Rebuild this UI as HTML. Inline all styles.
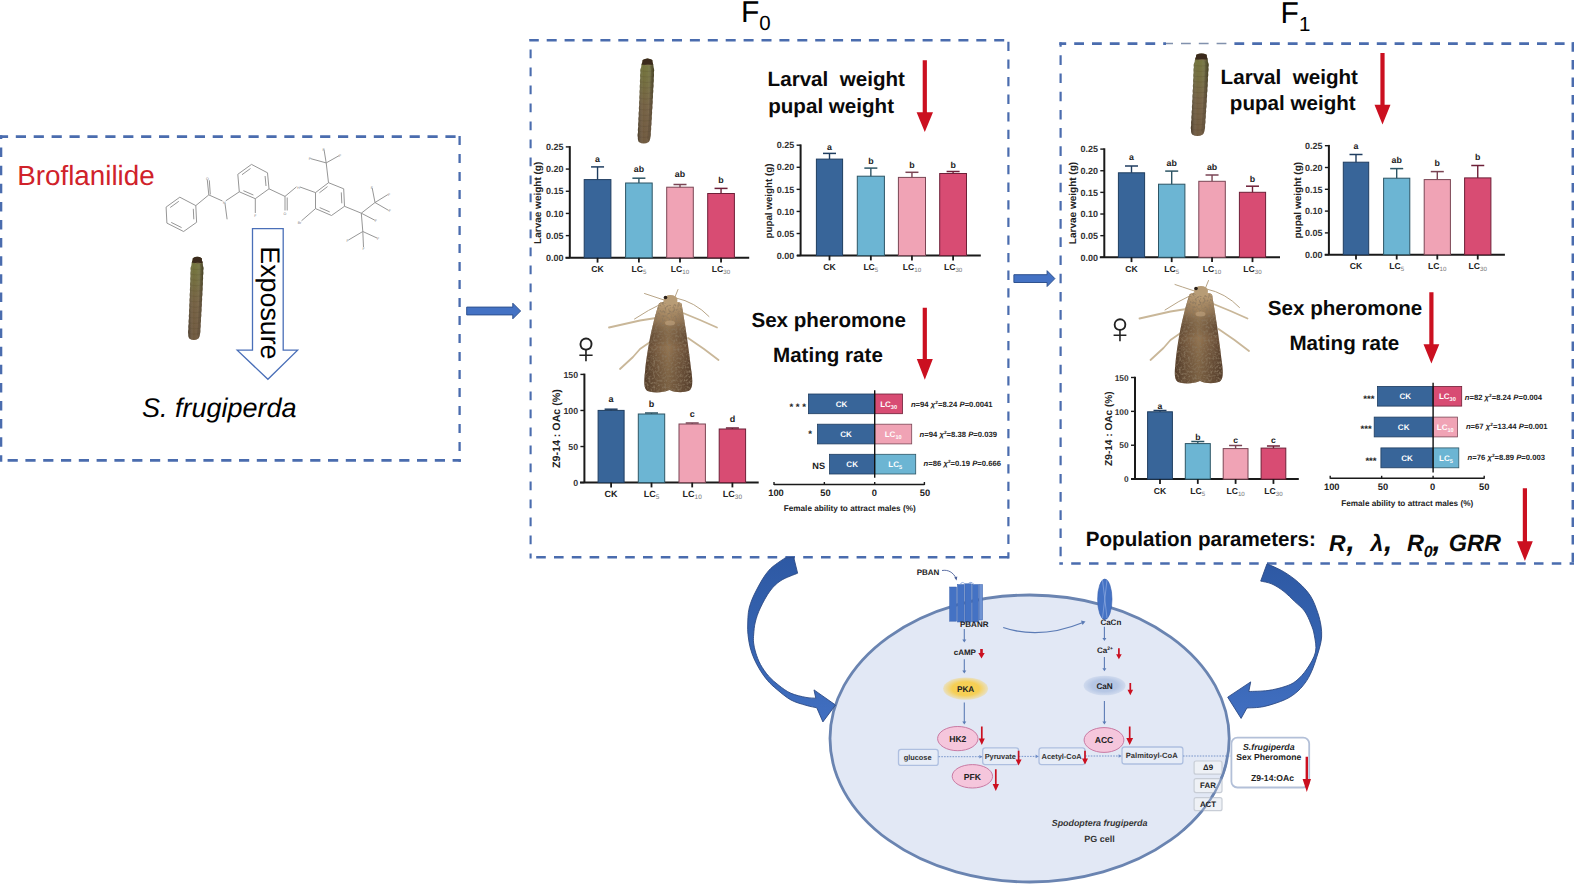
<!DOCTYPE html>
<html><head><meta charset="utf-8"><title>Broflanilide graphical abstract</title>
<style>html,body{margin:0;padding:0;background:#fff;overflow:hidden}svg{display:block;text-rendering:geometricPrecision}</style></head>
<body><svg width="1574" height="886" viewBox="0 0 1574 886">
<defs>
<linearGradient id="catG" x1="0" y1="0" x2="0" y2="1">
 <stop offset="0" stop-color="#5f5a2a"/><stop offset="0.1" stop-color="#6c6c33"/><stop offset="0.3" stop-color="#6c6535"/>
 <stop offset="0.55" stop-color="#6e5a3a"/><stop offset="1" stop-color="#685136"/></linearGradient>
<linearGradient id="catS" x1="0" y1="0" x2="1" y2="0">
 <stop offset="0" stop-color="#000" stop-opacity="0.35"/><stop offset="0.35" stop-color="#fff" stop-opacity="0.05"/>
 <stop offset="0.6" stop-color="#fff" stop-opacity="0.08"/><stop offset="1" stop-color="#000" stop-opacity="0.4"/></linearGradient>
<linearGradient id="mothG" x1="0" y1="0" x2="1" y2="0">
 <stop offset="0" stop-color="#5e4530"/><stop offset="0.25" stop-color="#7b5e42"/>
 <stop offset="0.5" stop-color="#957652"/><stop offset="0.75" stop-color="#7a5d42"/><stop offset="1" stop-color="#604632"/></linearGradient>
<linearGradient id="mothV" x1="0" y1="0" x2="0" y2="1">
 <stop offset="0" stop-color="#c8ab82" stop-opacity="0.9"/><stop offset="0.22" stop-color="#ad9069" stop-opacity="0.45"/>
 <stop offset="0.5" stop-color="#000" stop-opacity="0"/><stop offset="1" stop-color="#3d2d1e" stop-opacity="0.3"/></linearGradient>
<linearGradient id="arrG" x1="0" y1="0" x2="0" y2="1">
 <stop offset="0" stop-color="#2e59a4"/><stop offset="0.5" stop-color="#3563b0"/><stop offset="1" stop-color="#416fc1"/></linearGradient>
<radialGradient id="pkaG"><stop offset="0.6" stop-color="#f6cf55"/><stop offset="1" stop-color="#f6cf55" stop-opacity="0.3"/></radialGradient>
<radialGradient id="canG"><stop offset="0.6" stop-color="#b5c6e4"/><stop offset="1" stop-color="#b5c6e4" stop-opacity="0.4"/></radialGradient>
<clipPath id="catHeadClip"><path d="M-2,-3 H20 V6.0 Q9,8.2 -2,6.0 Z"/></clipPath>
<filter id="blurC" x="-20%" y="-5%" width="140%" height="110%"><feGaussianBlur stdDeviation="0.45"/></filter>
<filter id="mottle" x="0" y="0" width="100%" height="100%"><feTurbulence type="fractalNoise" baseFrequency="0.45" numOctaves="2" seed="7" result="n"/><feColorMatrix in="n" type="matrix" values="0 0 0 0 0.25  0 0 0 0 0.18  0 0 0 0 0.11  0 0 0 -2.2 1.25" result="m"/><feComposite in="m" in2="SourceGraphic" operator="in"/></filter>
<filter id="blur1"><feGaussianBlur stdDeviation="0.6"/></filter>
<filter id="blur2"><feGaussianBlur stdDeviation="1.2"/></filter>
</defs>
<rect x="0" y="0" width="1574" height="886" fill="#ffffff"/>
<line x1="0.00" y1="136.60" x2="460.90" y2="136.60" stroke="#4a6cae" stroke-width="2.6" stroke-dasharray="10.2 7.70" stroke-dashoffset="2.10"/>
<line x1="1.10" y1="135.30" x2="1.10" y2="461.70" stroke="#4a6cae" stroke-width="2.4" stroke-dasharray="9.5 8.60" stroke-dashoffset="5.80"/>
<line x1="0.00" y1="460.40" x2="460.90" y2="460.40" stroke="#4a6cae" stroke-width="2.6" stroke-dasharray="10.2 7.60" stroke-dashoffset="10.20"/>
<line x1="459.60" y1="135.30" x2="459.60" y2="461.70" stroke="#4a6cae" stroke-width="2.3" stroke-dasharray="9.1 8.90" stroke-dashoffset="17.30"/>
<line x1="529.30" y1="40.20" x2="1009.60" y2="40.20" stroke="#4a6cae" stroke-width="2.6" stroke-dasharray="10.0 7.90" stroke-dashoffset="0.50"/>
<line x1="530.60" y1="38.90" x2="530.60" y2="558.50" stroke="#4a6cae" stroke-width="2.1" stroke-dasharray="8.6 9.40" stroke-dashoffset="7.30"/>
<line x1="529.30" y1="557.20" x2="1009.60" y2="557.20" stroke="#4a6cae" stroke-width="2.6" stroke-dasharray="9.6 8.20" stroke-dashoffset="10.90"/>
<line x1="1008.40" y1="38.90" x2="1008.40" y2="558.50" stroke="#4a6cae" stroke-width="2.2" stroke-dasharray="9.3 8.30" stroke-dashoffset="14.70"/>
<line x1="1059.30" y1="43.60" x2="1574.00" y2="43.60" stroke="#4a6cae" stroke-width="2.6" stroke-dasharray="9.8 8.00" stroke-dashoffset="2.90"/>
<line x1="1060.60" y1="42.30" x2="1060.60" y2="564.80" stroke="#4a6cae" stroke-width="2.2" stroke-dasharray="9.6 8.60" stroke-dashoffset="5.20"/>
<line x1="1059.30" y1="563.50" x2="1574.00" y2="563.50" stroke="#4a6cae" stroke-width="2.6" stroke-dasharray="9.5 8.30" stroke-dashoffset="5.90"/>
<line x1="1572.80" y1="42.30" x2="1572.80" y2="564.80" stroke="#4a6cae" stroke-width="2.5" stroke-dasharray="9.5 8.10" stroke-dashoffset="0.00"/>
<rect x="1166" y="41.8" width="62" height="3.8" fill="#fff"/>
<line x1="1166.00" y1="43.60" x2="1228.00" y2="43.60" stroke="#8191ad" stroke-width="1.5" stroke-dasharray="9.8 8.00" stroke-dashoffset="2.80"/>
<path d="M466.7,307.1 L512.8,307.1 L512.8,303.2 L520.6,311.0 L512.8,318.8 L512.8,314.9 L466.7,314.9 Z" fill="#4472c4" stroke="#2f528f" stroke-width="1"/>
<path d="M1013.9,274.70000000000005 L1047.1,274.70000000000005 L1047.1,270.70000000000005 L1054.9,278.6 L1047.1,286.5 L1047.1,282.5 L1013.9,282.5 Z" fill="#4472c4" stroke="#2f528f" stroke-width="1"/>
<text x="17.20" y="185.00" font-size="27.8" font-weight="normal" font-style="normal" text-anchor="start" fill="#d0222a" font-family="'Liberation Sans', Arial, sans-serif" >Broflanilide</text>
<text x="142.00" y="417.20" font-size="27.0" font-weight="normal" font-style="italic" text-anchor="start" fill="#000" font-family="'Liberation Sans', Arial, sans-serif" >S. frugiperda</text>
<path d="M252.5,228.6 L283.2,228.6 L283.2,350.1 L297.6,350.1 L267.9,379.3 L237.2,350.1 L252.5,350.1 Z" fill="#fff" stroke="#4a6fb8" stroke-width="1.3"/>
<text transform="translate(261.0,246.3) rotate(90)" x="0" y="0" font-size="26.8" font-family="'Liberation Sans', Arial, sans-serif" fill="#000">Exposure</text>
<g transform="translate(189.3,256.2) scale(0.93,0.98)"><g>
 <g filter="url(#blurC)">
 <path d="M3.76,2.00 Q8.60,-1.0 13.38,2.00 L13.45,3.17 L13.58,4.34 L14.00,5.51 L14.30,6.69 L14.45,7.86 L14.47,9.03 L14.76,10.20 L15.14,11.37 L15.25,12.54 L15.08,13.71 L14.84,14.89 L15.01,16.06 L15.08,17.23 L14.98,18.40 L14.76,19.57 L14.69,20.74 L14.82,21.91 L14.83,23.09 L14.67,24.26 L14.41,25.43 L14.51,26.60 L14.60,27.77 L14.54,28.94 L14.33,30.11 L14.16,31.29 L14.30,32.46 L14.33,33.63 L14.21,34.80 L13.95,35.97 L13.95,37.14 L14.06,38.31 L14.03,39.49 L13.84,40.66 L13.57,41.83 L13.73,43.00 L13.79,44.17 L13.69,45.34 L13.46,46.51 L13.35,47.69 L13.48,48.86 L13.48,50.03 L13.32,51.20 L13.05,52.37 L13.12,53.54 L13.20,54.71 L13.14,55.89 L12.92,57.06 L12.72,58.23 L12.86,59.40 L12.89,60.57 L12.76,61.74 L12.50,62.91 L12.47,64.09 L12.58,65.26 L12.54,66.43 L12.35,67.60 L12.06,68.77 L12.20,69.94 L12.26,71.11 L12.16,72.29 L11.92,73.46 L11.79,74.63 L11.92,75.80 L11.91,76.97 L11.75,78.14 L11.41,79.31 L11.27,80.49 L11.06,81.66 L10.60,82.83 L9.88,84.00 Q4.80,87.2 -0.05,84.00 L-0.64,82.83 L-0.97,81.66 L-1.04,80.49 L-1.05,79.31 L-1.26,78.14 L-1.29,76.97 L-1.16,75.80 L-0.91,74.63 L-0.92,73.46 L-1.03,72.29 L-1.00,71.11 L-0.81,69.94 L-0.55,68.77 L-0.71,67.60 L-0.77,66.43 L-0.68,65.26 L-0.46,64.09 L-0.36,62.91 L-0.50,61.74 L-0.51,60.57 L-0.36,59.40 L-0.10,58.23 L-0.18,57.06 L-0.27,55.89 L-0.22,54.71 L-0.02,53.54 L0.16,52.37 L0.01,51.20 L-0.04,50.03 L0.07,48.86 L0.31,47.69 L0.33,46.51 L0.20,45.34 L0.22,44.17 L0.38,43.00 L0.65,41.83 L0.49,40.66 L0.41,39.49 L0.48,38.31 L0.69,37.14 L0.80,35.97 L0.65,34.80 L0.62,33.63 L0.76,32.46 L1.00,31.29 L0.93,30.11 L0.82,28.94 L0.85,27.77 L1.04,26.60 L1.23,25.43 L1.06,24.26 L1.00,23.09 L1.09,21.91 L1.31,20.74 L1.33,19.57 L1.19,18.40 L1.18,17.23 L1.33,16.06 L1.58,14.89 L1.42,13.71 L1.32,12.54 L1.51,11.37 L1.96,10.20 L2.33,9.03 L2.41,7.86 L2.62,6.69 L2.98,5.51 L3.46,4.34 L3.65,3.17 L3.76,2.00 Z" fill="url(#catG)"/>
 <path d="M3.76,2.00 Q8.60,-1.0 13.38,2.00 L13.45,3.17 L13.58,4.34 L14.00,5.51 L14.30,6.69 L14.45,7.86 L14.47,9.03 L14.76,10.20 L15.14,11.37 L15.25,12.54 L15.08,13.71 L14.84,14.89 L15.01,16.06 L15.08,17.23 L14.98,18.40 L14.76,19.57 L14.69,20.74 L14.82,21.91 L14.83,23.09 L14.67,24.26 L14.41,25.43 L14.51,26.60 L14.60,27.77 L14.54,28.94 L14.33,30.11 L14.16,31.29 L14.30,32.46 L14.33,33.63 L14.21,34.80 L13.95,35.97 L13.95,37.14 L14.06,38.31 L14.03,39.49 L13.84,40.66 L13.57,41.83 L13.73,43.00 L13.79,44.17 L13.69,45.34 L13.46,46.51 L13.35,47.69 L13.48,48.86 L13.48,50.03 L13.32,51.20 L13.05,52.37 L13.12,53.54 L13.20,54.71 L13.14,55.89 L12.92,57.06 L12.72,58.23 L12.86,59.40 L12.89,60.57 L12.76,61.74 L12.50,62.91 L12.47,64.09 L12.58,65.26 L12.54,66.43 L12.35,67.60 L12.06,68.77 L12.20,69.94 L12.26,71.11 L12.16,72.29 L11.92,73.46 L11.79,74.63 L11.92,75.80 L11.91,76.97 L11.75,78.14 L11.41,79.31 L11.27,80.49 L11.06,81.66 L10.60,82.83 L9.88,84.00 Q4.80,87.2 -0.05,84.00 L-0.64,82.83 L-0.97,81.66 L-1.04,80.49 L-1.05,79.31 L-1.26,78.14 L-1.29,76.97 L-1.16,75.80 L-0.91,74.63 L-0.92,73.46 L-1.03,72.29 L-1.00,71.11 L-0.81,69.94 L-0.55,68.77 L-0.71,67.60 L-0.77,66.43 L-0.68,65.26 L-0.46,64.09 L-0.36,62.91 L-0.50,61.74 L-0.51,60.57 L-0.36,59.40 L-0.10,58.23 L-0.18,57.06 L-0.27,55.89 L-0.22,54.71 L-0.02,53.54 L0.16,52.37 L0.01,51.20 L-0.04,50.03 L0.07,48.86 L0.31,47.69 L0.33,46.51 L0.20,45.34 L0.22,44.17 L0.38,43.00 L0.65,41.83 L0.49,40.66 L0.41,39.49 L0.48,38.31 L0.69,37.14 L0.80,35.97 L0.65,34.80 L0.62,33.63 L0.76,32.46 L1.00,31.29 L0.93,30.11 L0.82,28.94 L0.85,27.77 L1.04,26.60 L1.23,25.43 L1.06,24.26 L1.00,23.09 L1.09,21.91 L1.31,20.74 L1.33,19.57 L1.19,18.40 L1.18,17.23 L1.33,16.06 L1.58,14.89 L1.42,13.71 L1.32,12.54 L1.51,11.37 L1.96,10.20 L2.33,9.03 L2.41,7.86 L2.62,6.69 L2.98,5.51 L3.46,4.34 L3.65,3.17 L3.76,2.00 Z" fill="url(#catS)"/>
 <path d="M10.83,6 L11.40,8.00 L12.14,12.00 L11.98,16.00 L11.81,20.00 L11.64,24.00 L11.45,28.00 L11.26,32.00 L11.07,36.00 L10.86,40.00 L10.65,44.00 L10.44,48.00 L10.22,52.00 L10.00,56.00 L9.77,60.00 L9.54,64.00 L9.30,68.00 L9.07,72.00 L8.82,76.00 L8.42,80.00 L9.99,84.00 L11.52,80.00 L11.92,76.00 L12.17,72.00 L12.40,68.00 L12.64,64.00 L12.87,60.00 L13.10,56.00 L13.32,52.00 L13.54,48.00 L13.75,44.00 L13.96,40.00 L14.17,36.00 L14.36,32.00 L14.55,28.00 L14.74,24.00 L14.91,20.00 L15.08,16.00 L15.24,12.00 L14.50,8.00 Z" fill="#3e2f1c" fill-opacity="0.25"/>
 <path d="M2.15,13.00 Q8.27,14.20 14.40,13.00 M1.99,18.50 Q8.08,19.70 14.18,18.50 M1.82,24.00 Q7.88,25.20 13.94,24.00 M1.63,29.50 Q7.65,30.70 13.68,29.50 M1.42,35.00 Q7.42,36.20 13.42,35.00 M1.21,40.50 Q7.17,41.70 13.14,40.50 M0.98,46.00 Q6.92,47.20 12.85,46.00 M0.75,51.50 Q6.65,52.70 12.55,51.50 M0.51,57.00 Q6.37,58.20 12.24,57.00 M0.25,62.50 Q6.09,63.70 11.93,62.50 M-0.00,68.00 Q5.80,69.20 11.60,68.00 M-0.27,73.50 Q5.50,74.70 11.27,73.50 M-0.50,79.00 Q5.20,80.20 10.90,79.00" stroke="#3d2f1c" stroke-opacity="0.18" stroke-width="0.7" fill="none"/>
 <path d="M3.76,2.00 Q8.60,-1.0 13.38,2.00 L13.45,3.17 L13.58,4.34 L14.00,5.51 L14.30,6.69 L14.45,7.86 L14.47,9.03 L14.76,10.20 L15.14,11.37 L15.25,12.54 L15.08,13.71 L14.84,14.89 L15.01,16.06 L15.08,17.23 L14.98,18.40 L14.76,19.57 L14.69,20.74 L14.82,21.91 L14.83,23.09 L14.67,24.26 L14.41,25.43 L14.51,26.60 L14.60,27.77 L14.54,28.94 L14.33,30.11 L14.16,31.29 L14.30,32.46 L14.33,33.63 L14.21,34.80 L13.95,35.97 L13.95,37.14 L14.06,38.31 L14.03,39.49 L13.84,40.66 L13.57,41.83 L13.73,43.00 L13.79,44.17 L13.69,45.34 L13.46,46.51 L13.35,47.69 L13.48,48.86 L13.48,50.03 L13.32,51.20 L13.05,52.37 L13.12,53.54 L13.20,54.71 L13.14,55.89 L12.92,57.06 L12.72,58.23 L12.86,59.40 L12.89,60.57 L12.76,61.74 L12.50,62.91 L12.47,64.09 L12.58,65.26 L12.54,66.43 L12.35,67.60 L12.06,68.77 L12.20,69.94 L12.26,71.11 L12.16,72.29 L11.92,73.46 L11.79,74.63 L11.92,75.80 L11.91,76.97 L11.75,78.14 L11.41,79.31 L11.27,80.49 L11.06,81.66 L10.60,82.83 L9.88,84.00 Q4.80,87.2 -0.05,84.00 L-0.64,82.83 L-0.97,81.66 L-1.04,80.49 L-1.05,79.31 L-1.26,78.14 L-1.29,76.97 L-1.16,75.80 L-0.91,74.63 L-0.92,73.46 L-1.03,72.29 L-1.00,71.11 L-0.81,69.94 L-0.55,68.77 L-0.71,67.60 L-0.77,66.43 L-0.68,65.26 L-0.46,64.09 L-0.36,62.91 L-0.50,61.74 L-0.51,60.57 L-0.36,59.40 L-0.10,58.23 L-0.18,57.06 L-0.27,55.89 L-0.22,54.71 L-0.02,53.54 L0.16,52.37 L0.01,51.20 L-0.04,50.03 L0.07,48.86 L0.31,47.69 L0.33,46.51 L0.20,45.34 L0.22,44.17 L0.38,43.00 L0.65,41.83 L0.49,40.66 L0.41,39.49 L0.48,38.31 L0.69,37.14 L0.80,35.97 L0.65,34.80 L0.62,33.63 L0.76,32.46 L1.00,31.29 L0.93,30.11 L0.82,28.94 L0.85,27.77 L1.04,26.60 L1.23,25.43 L1.06,24.26 L1.00,23.09 L1.09,21.91 L1.31,20.74 L1.33,19.57 L1.19,18.40 L1.18,17.23 L1.33,16.06 L1.58,14.89 L1.42,13.71 L1.32,12.54 L1.51,11.37 L1.96,10.20 L2.33,9.03 L2.41,7.86 L2.62,6.69 L2.98,5.51 L3.46,4.34 L3.65,3.17 L3.76,2.00 Z" fill="#3b2b1c" clip-path="url(#catHeadClip)"/>
 <path d="M6,7.6 Q9,6.2 12.5,7.6" stroke="#8a7a55" stroke-width="0.8" fill="none" stroke-opacity="0.7"/>
 </g>
</g>
</g>
<path d="M179.8,197.2 L195.8,205.6 M195.8,205.6 L196.6,222.3 M196.6,222.3 L183.6,231.5 M183.6,231.5 L166.9,223.1 M166.9,223.1 L166.1,207.1 M166.1,207.1 L179.8,197.2 M178.8,201.3 L170.2,207.5 M193.3,208.8 L193.8,219.3 M181.6,227.6 L171.2,222.4 M195.8,205.6 L208.8,194.9 M208.8,194.9 L207.3,180.0 M210.3,194.5 L209.3,180.3 M208.8,194.9 L222.5,201.0 M225.0,203.5 L227.1,219.3 M225.8,200.8 L239.3,191.8 M239.3,191.8 L237.8,174.3 M237.8,174.3 L251.5,164.4 M251.5,164.4 L267.5,172.8 M267.5,172.8 L269.0,188.8 M269.0,188.8 L255.3,198.7 M255.3,198.7 L239.3,191.8 M242.0,174.7 L250.5,168.5 M265.1,176.0 L266.0,186.0 M253.4,195.0 L243.4,190.7 M255.3,198.7 L255.3,213.0 M269.0,188.8 L285.0,196.4 M285.0,196.4 L285.0,210.5 M287.2,197.5 L287.2,210.5 M285.0,196.4 L296.5,186.8 M300.0,187.0 L315.5,192.6 M315.5,192.6 L328.5,182.7 M328.5,182.7 L343.7,188.8 M343.7,188.8 L344.5,206.3 M344.5,206.3 L331.5,215.5 M331.5,215.5 L315.5,208.6 M315.5,208.6 L315.5,192.6 M319.4,192.8 L327.5,186.6 M341.3,192.4 L341.8,203.3 M329.7,211.9 L319.7,207.6 M328.5,182.7 L326.2,162.9 M326.2,162.9 L310.5,158.6 M326.2,162.9 L324.0,149.5 M326.2,162.9 L339.0,155.7 M315.5,208.6 L301.5,220.8 M344.5,206.3 L361.3,213.2 M361.3,213.2 L375.0,202.5 M375.0,202.5 L372.2,188.0 M375.0,202.5 L387.8,194.6 M375.0,202.5 L388.6,210.4 M361.3,213.2 L374.8,220.2 M361.3,213.2 L362.8,231.5 M362.8,231.5 L348.5,240.0 M362.8,231.5 L377.0,238.0 M362.8,231.5 L363.5,247.0" stroke="#8a8a8a" stroke-width="0.9" fill="none"/>
<text x="207.30" y="180.20" font-size="3.6" font-weight="normal" font-style="normal" text-anchor="middle" fill="#777" font-family="'Liberation Sans', Arial, sans-serif" >O</text>
<text x="224.20" y="204.00" font-size="3.6" font-weight="normal" font-style="normal" text-anchor="middle" fill="#777" font-family="'Liberation Sans', Arial, sans-serif" >N</text>
<text x="255.30" y="216.50" font-size="3.6" font-weight="normal" font-style="normal" text-anchor="middle" fill="#777" font-family="'Liberation Sans', Arial, sans-serif" >F</text>
<text x="285.00" y="214.50" font-size="3.6" font-weight="normal" font-style="normal" text-anchor="middle" fill="#777" font-family="'Liberation Sans', Arial, sans-serif" >O</text>
<text x="298.50" y="188.50" font-size="3.6" font-weight="normal" font-style="normal" text-anchor="middle" fill="#777" font-family="'Liberation Sans', Arial, sans-serif" >H</text>
<text x="299.50" y="223.50" font-size="3.6" font-weight="normal" font-style="normal" text-anchor="middle" fill="#777" font-family="'Liberation Sans', Arial, sans-serif" >Br</text>
<text x="309.80" y="160.30" font-size="3.6" font-weight="normal" font-style="normal" text-anchor="middle" fill="#777" font-family="'Liberation Sans', Arial, sans-serif" >F</text>
<text x="323.60" y="150.80" font-size="3.6" font-weight="normal" font-style="normal" text-anchor="middle" fill="#777" font-family="'Liberation Sans', Arial, sans-serif" >F</text>
<text x="340.00" y="157.30" font-size="3.6" font-weight="normal" font-style="normal" text-anchor="middle" fill="#777" font-family="'Liberation Sans', Arial, sans-serif" >F</text>
<text x="371.80" y="189.30" font-size="3.6" font-weight="normal" font-style="normal" text-anchor="middle" fill="#777" font-family="'Liberation Sans', Arial, sans-serif" >F</text>
<text x="389.00" y="196.00" font-size="3.6" font-weight="normal" font-style="normal" text-anchor="middle" fill="#777" font-family="'Liberation Sans', Arial, sans-serif" >F</text>
<text x="389.80" y="212.00" font-size="3.6" font-weight="normal" font-style="normal" text-anchor="middle" fill="#777" font-family="'Liberation Sans', Arial, sans-serif" >F</text>
<text x="375.80" y="222.00" font-size="3.6" font-weight="normal" font-style="normal" text-anchor="middle" fill="#777" font-family="'Liberation Sans', Arial, sans-serif" >F</text>
<text x="347.50" y="242.00" font-size="3.6" font-weight="normal" font-style="normal" text-anchor="middle" fill="#777" font-family="'Liberation Sans', Arial, sans-serif" >F</text>
<text x="378.00" y="240.00" font-size="3.6" font-weight="normal" font-style="normal" text-anchor="middle" fill="#777" font-family="'Liberation Sans', Arial, sans-serif" >F</text>
<text x="363.60" y="249.50" font-size="3.6" font-weight="normal" font-style="normal" text-anchor="middle" fill="#777" font-family="'Liberation Sans', Arial, sans-serif" >F</text>
<text x="741.0" y="21.5" font-size="30" font-family="'Liberation Sans', Arial, sans-serif" fill="#000">F<tspan font-size="20.5" dy="8.2">0</tspan></text>
<text x="1280.6" y="22.8" font-size="30" font-family="'Liberation Sans', Arial, sans-serif" fill="#000">F<tspan font-size="20.5" dy="7.9">1</tspan></text>
<g transform="translate(638.9,57.9) scale(1.0,1.0)"><g>
 <g filter="url(#blurC)">
 <path d="M3.76,2.00 Q8.60,-1.0 13.38,2.00 L13.45,3.17 L13.58,4.34 L14.00,5.51 L14.30,6.69 L14.45,7.86 L14.47,9.03 L14.76,10.20 L15.14,11.37 L15.25,12.54 L15.08,13.71 L14.84,14.89 L15.01,16.06 L15.08,17.23 L14.98,18.40 L14.76,19.57 L14.69,20.74 L14.82,21.91 L14.83,23.09 L14.67,24.26 L14.41,25.43 L14.51,26.60 L14.60,27.77 L14.54,28.94 L14.33,30.11 L14.16,31.29 L14.30,32.46 L14.33,33.63 L14.21,34.80 L13.95,35.97 L13.95,37.14 L14.06,38.31 L14.03,39.49 L13.84,40.66 L13.57,41.83 L13.73,43.00 L13.79,44.17 L13.69,45.34 L13.46,46.51 L13.35,47.69 L13.48,48.86 L13.48,50.03 L13.32,51.20 L13.05,52.37 L13.12,53.54 L13.20,54.71 L13.14,55.89 L12.92,57.06 L12.72,58.23 L12.86,59.40 L12.89,60.57 L12.76,61.74 L12.50,62.91 L12.47,64.09 L12.58,65.26 L12.54,66.43 L12.35,67.60 L12.06,68.77 L12.20,69.94 L12.26,71.11 L12.16,72.29 L11.92,73.46 L11.79,74.63 L11.92,75.80 L11.91,76.97 L11.75,78.14 L11.41,79.31 L11.27,80.49 L11.06,81.66 L10.60,82.83 L9.88,84.00 Q4.80,87.2 -0.05,84.00 L-0.64,82.83 L-0.97,81.66 L-1.04,80.49 L-1.05,79.31 L-1.26,78.14 L-1.29,76.97 L-1.16,75.80 L-0.91,74.63 L-0.92,73.46 L-1.03,72.29 L-1.00,71.11 L-0.81,69.94 L-0.55,68.77 L-0.71,67.60 L-0.77,66.43 L-0.68,65.26 L-0.46,64.09 L-0.36,62.91 L-0.50,61.74 L-0.51,60.57 L-0.36,59.40 L-0.10,58.23 L-0.18,57.06 L-0.27,55.89 L-0.22,54.71 L-0.02,53.54 L0.16,52.37 L0.01,51.20 L-0.04,50.03 L0.07,48.86 L0.31,47.69 L0.33,46.51 L0.20,45.34 L0.22,44.17 L0.38,43.00 L0.65,41.83 L0.49,40.66 L0.41,39.49 L0.48,38.31 L0.69,37.14 L0.80,35.97 L0.65,34.80 L0.62,33.63 L0.76,32.46 L1.00,31.29 L0.93,30.11 L0.82,28.94 L0.85,27.77 L1.04,26.60 L1.23,25.43 L1.06,24.26 L1.00,23.09 L1.09,21.91 L1.31,20.74 L1.33,19.57 L1.19,18.40 L1.18,17.23 L1.33,16.06 L1.58,14.89 L1.42,13.71 L1.32,12.54 L1.51,11.37 L1.96,10.20 L2.33,9.03 L2.41,7.86 L2.62,6.69 L2.98,5.51 L3.46,4.34 L3.65,3.17 L3.76,2.00 Z" fill="url(#catG)"/>
 <path d="M3.76,2.00 Q8.60,-1.0 13.38,2.00 L13.45,3.17 L13.58,4.34 L14.00,5.51 L14.30,6.69 L14.45,7.86 L14.47,9.03 L14.76,10.20 L15.14,11.37 L15.25,12.54 L15.08,13.71 L14.84,14.89 L15.01,16.06 L15.08,17.23 L14.98,18.40 L14.76,19.57 L14.69,20.74 L14.82,21.91 L14.83,23.09 L14.67,24.26 L14.41,25.43 L14.51,26.60 L14.60,27.77 L14.54,28.94 L14.33,30.11 L14.16,31.29 L14.30,32.46 L14.33,33.63 L14.21,34.80 L13.95,35.97 L13.95,37.14 L14.06,38.31 L14.03,39.49 L13.84,40.66 L13.57,41.83 L13.73,43.00 L13.79,44.17 L13.69,45.34 L13.46,46.51 L13.35,47.69 L13.48,48.86 L13.48,50.03 L13.32,51.20 L13.05,52.37 L13.12,53.54 L13.20,54.71 L13.14,55.89 L12.92,57.06 L12.72,58.23 L12.86,59.40 L12.89,60.57 L12.76,61.74 L12.50,62.91 L12.47,64.09 L12.58,65.26 L12.54,66.43 L12.35,67.60 L12.06,68.77 L12.20,69.94 L12.26,71.11 L12.16,72.29 L11.92,73.46 L11.79,74.63 L11.92,75.80 L11.91,76.97 L11.75,78.14 L11.41,79.31 L11.27,80.49 L11.06,81.66 L10.60,82.83 L9.88,84.00 Q4.80,87.2 -0.05,84.00 L-0.64,82.83 L-0.97,81.66 L-1.04,80.49 L-1.05,79.31 L-1.26,78.14 L-1.29,76.97 L-1.16,75.80 L-0.91,74.63 L-0.92,73.46 L-1.03,72.29 L-1.00,71.11 L-0.81,69.94 L-0.55,68.77 L-0.71,67.60 L-0.77,66.43 L-0.68,65.26 L-0.46,64.09 L-0.36,62.91 L-0.50,61.74 L-0.51,60.57 L-0.36,59.40 L-0.10,58.23 L-0.18,57.06 L-0.27,55.89 L-0.22,54.71 L-0.02,53.54 L0.16,52.37 L0.01,51.20 L-0.04,50.03 L0.07,48.86 L0.31,47.69 L0.33,46.51 L0.20,45.34 L0.22,44.17 L0.38,43.00 L0.65,41.83 L0.49,40.66 L0.41,39.49 L0.48,38.31 L0.69,37.14 L0.80,35.97 L0.65,34.80 L0.62,33.63 L0.76,32.46 L1.00,31.29 L0.93,30.11 L0.82,28.94 L0.85,27.77 L1.04,26.60 L1.23,25.43 L1.06,24.26 L1.00,23.09 L1.09,21.91 L1.31,20.74 L1.33,19.57 L1.19,18.40 L1.18,17.23 L1.33,16.06 L1.58,14.89 L1.42,13.71 L1.32,12.54 L1.51,11.37 L1.96,10.20 L2.33,9.03 L2.41,7.86 L2.62,6.69 L2.98,5.51 L3.46,4.34 L3.65,3.17 L3.76,2.00 Z" fill="url(#catS)"/>
 <path d="M10.83,6 L11.40,8.00 L12.14,12.00 L11.98,16.00 L11.81,20.00 L11.64,24.00 L11.45,28.00 L11.26,32.00 L11.07,36.00 L10.86,40.00 L10.65,44.00 L10.44,48.00 L10.22,52.00 L10.00,56.00 L9.77,60.00 L9.54,64.00 L9.30,68.00 L9.07,72.00 L8.82,76.00 L8.42,80.00 L9.99,84.00 L11.52,80.00 L11.92,76.00 L12.17,72.00 L12.40,68.00 L12.64,64.00 L12.87,60.00 L13.10,56.00 L13.32,52.00 L13.54,48.00 L13.75,44.00 L13.96,40.00 L14.17,36.00 L14.36,32.00 L14.55,28.00 L14.74,24.00 L14.91,20.00 L15.08,16.00 L15.24,12.00 L14.50,8.00 Z" fill="#3e2f1c" fill-opacity="0.25"/>
 <path d="M2.15,13.00 Q8.27,14.20 14.40,13.00 M1.99,18.50 Q8.08,19.70 14.18,18.50 M1.82,24.00 Q7.88,25.20 13.94,24.00 M1.63,29.50 Q7.65,30.70 13.68,29.50 M1.42,35.00 Q7.42,36.20 13.42,35.00 M1.21,40.50 Q7.17,41.70 13.14,40.50 M0.98,46.00 Q6.92,47.20 12.85,46.00 M0.75,51.50 Q6.65,52.70 12.55,51.50 M0.51,57.00 Q6.37,58.20 12.24,57.00 M0.25,62.50 Q6.09,63.70 11.93,62.50 M-0.00,68.00 Q5.80,69.20 11.60,68.00 M-0.27,73.50 Q5.50,74.70 11.27,73.50 M-0.50,79.00 Q5.20,80.20 10.90,79.00" stroke="#3d2f1c" stroke-opacity="0.18" stroke-width="0.7" fill="none"/>
 <path d="M3.76,2.00 Q8.60,-1.0 13.38,2.00 L13.45,3.17 L13.58,4.34 L14.00,5.51 L14.30,6.69 L14.45,7.86 L14.47,9.03 L14.76,10.20 L15.14,11.37 L15.25,12.54 L15.08,13.71 L14.84,14.89 L15.01,16.06 L15.08,17.23 L14.98,18.40 L14.76,19.57 L14.69,20.74 L14.82,21.91 L14.83,23.09 L14.67,24.26 L14.41,25.43 L14.51,26.60 L14.60,27.77 L14.54,28.94 L14.33,30.11 L14.16,31.29 L14.30,32.46 L14.33,33.63 L14.21,34.80 L13.95,35.97 L13.95,37.14 L14.06,38.31 L14.03,39.49 L13.84,40.66 L13.57,41.83 L13.73,43.00 L13.79,44.17 L13.69,45.34 L13.46,46.51 L13.35,47.69 L13.48,48.86 L13.48,50.03 L13.32,51.20 L13.05,52.37 L13.12,53.54 L13.20,54.71 L13.14,55.89 L12.92,57.06 L12.72,58.23 L12.86,59.40 L12.89,60.57 L12.76,61.74 L12.50,62.91 L12.47,64.09 L12.58,65.26 L12.54,66.43 L12.35,67.60 L12.06,68.77 L12.20,69.94 L12.26,71.11 L12.16,72.29 L11.92,73.46 L11.79,74.63 L11.92,75.80 L11.91,76.97 L11.75,78.14 L11.41,79.31 L11.27,80.49 L11.06,81.66 L10.60,82.83 L9.88,84.00 Q4.80,87.2 -0.05,84.00 L-0.64,82.83 L-0.97,81.66 L-1.04,80.49 L-1.05,79.31 L-1.26,78.14 L-1.29,76.97 L-1.16,75.80 L-0.91,74.63 L-0.92,73.46 L-1.03,72.29 L-1.00,71.11 L-0.81,69.94 L-0.55,68.77 L-0.71,67.60 L-0.77,66.43 L-0.68,65.26 L-0.46,64.09 L-0.36,62.91 L-0.50,61.74 L-0.51,60.57 L-0.36,59.40 L-0.10,58.23 L-0.18,57.06 L-0.27,55.89 L-0.22,54.71 L-0.02,53.54 L0.16,52.37 L0.01,51.20 L-0.04,50.03 L0.07,48.86 L0.31,47.69 L0.33,46.51 L0.20,45.34 L0.22,44.17 L0.38,43.00 L0.65,41.83 L0.49,40.66 L0.41,39.49 L0.48,38.31 L0.69,37.14 L0.80,35.97 L0.65,34.80 L0.62,33.63 L0.76,32.46 L1.00,31.29 L0.93,30.11 L0.82,28.94 L0.85,27.77 L1.04,26.60 L1.23,25.43 L1.06,24.26 L1.00,23.09 L1.09,21.91 L1.31,20.74 L1.33,19.57 L1.19,18.40 L1.18,17.23 L1.33,16.06 L1.58,14.89 L1.42,13.71 L1.32,12.54 L1.51,11.37 L1.96,10.20 L2.33,9.03 L2.41,7.86 L2.62,6.69 L2.98,5.51 L3.46,4.34 L3.65,3.17 L3.76,2.00 Z" fill="#3b2b1c" clip-path="url(#catHeadClip)"/>
 <path d="M6,7.6 Q9,6.2 12.5,7.6" stroke="#8a7a55" stroke-width="0.8" fill="none" stroke-opacity="0.7"/>
 </g>
</g>
</g>
<text x="767.60" y="86.20" font-size="20.6" font-weight="bold" font-style="normal" text-anchor="start" fill="#0a0a0a" font-family="'Liberation Sans', Arial, sans-serif" >Larval&#160;&#160;weight</text>
<text x="768.20" y="112.90" font-size="20.6" font-weight="bold" font-style="normal" text-anchor="start" fill="#0a0a0a" font-family="'Liberation Sans', Arial, sans-serif" >pupal weight</text>
<path d="M922.70,60.20 L926.90,60.20 L926.90,112.30 L933.00,112.30 L924.80,132.00 L916.60,112.30 L922.70,112.30 Z" fill="#cb1020"/>
<line x1="569.80" y1="146.10" x2="569.80" y2="257.80" stroke="#1a1a1a" stroke-width="2"/>
<line x1="565.50" y1="257.80" x2="749.20" y2="257.80" stroke="#1a1a1a" stroke-width="2"/>
<line x1="565.80" y1="257.80" x2="569.80" y2="257.80" stroke="#1a1a1a" stroke-width="1.4"/>
<text x="563.50" y="261.00" font-size="9.0" font-weight="bold" font-style="normal" text-anchor="end" fill="#333" font-family="'Liberation Sans', Arial, sans-serif" >0.00</text>
<line x1="565.80" y1="235.62" x2="569.80" y2="235.62" stroke="#1a1a1a" stroke-width="1.4"/>
<text x="563.50" y="238.82" font-size="9.0" font-weight="bold" font-style="normal" text-anchor="end" fill="#333" font-family="'Liberation Sans', Arial, sans-serif" >0.05</text>
<line x1="565.80" y1="213.44" x2="569.80" y2="213.44" stroke="#1a1a1a" stroke-width="1.4"/>
<text x="563.50" y="216.64" font-size="9.0" font-weight="bold" font-style="normal" text-anchor="end" fill="#333" font-family="'Liberation Sans', Arial, sans-serif" >0.10</text>
<line x1="565.80" y1="191.26" x2="569.80" y2="191.26" stroke="#1a1a1a" stroke-width="1.4"/>
<text x="563.50" y="194.46" font-size="9.0" font-weight="bold" font-style="normal" text-anchor="end" fill="#333" font-family="'Liberation Sans', Arial, sans-serif" >0.15</text>
<line x1="565.80" y1="169.08" x2="569.80" y2="169.08" stroke="#1a1a1a" stroke-width="1.4"/>
<text x="563.50" y="172.28" font-size="9.0" font-weight="bold" font-style="normal" text-anchor="end" fill="#333" font-family="'Liberation Sans', Arial, sans-serif" >0.20</text>
<line x1="565.80" y1="146.90" x2="569.80" y2="146.90" stroke="#1a1a1a" stroke-width="1.4"/>
<text x="563.50" y="150.10" font-size="9.0" font-weight="bold" font-style="normal" text-anchor="end" fill="#333" font-family="'Liberation Sans', Arial, sans-serif" >0.25</text>
<rect x="584.20" y="179.60" width="26.70" height="78.20" fill="#386599" stroke="#1f3d60" stroke-width="1"/>
<line x1="597.55" y1="166.90" x2="597.55" y2="179.60" stroke="#1f3d60" stroke-width="1.4"/>
<line x1="591.05" y1="166.90" x2="604.05" y2="166.90" stroke="#1f3d60" stroke-width="1.5"/>
<text x="597.55" y="161.50" font-size="8.8" font-weight="bold" font-style="normal" text-anchor="middle" fill="#222" font-family="'Liberation Sans', Arial, sans-serif" >a</text>
<line x1="597.55" y1="257.80" x2="597.55" y2="262.60" stroke="#1a1a1a" stroke-width="1.8"/>
<text x="597.55" y="271.80" font-size="8.6" font-weight="bold" font-style="normal" text-anchor="middle" fill="#222" font-family="'Liberation Sans', Arial, sans-serif" >CK</text>
<rect x="625.60" y="183.00" width="26.60" height="74.80" fill="#6cb5d3" stroke="#2d5565" stroke-width="1"/>
<line x1="638.90" y1="178.20" x2="638.90" y2="183.00" stroke="#2d5565" stroke-width="1.4"/>
<line x1="632.40" y1="178.20" x2="645.40" y2="178.20" stroke="#2d5565" stroke-width="1.5"/>
<text x="638.90" y="172.20" font-size="8.8" font-weight="bold" font-style="normal" text-anchor="middle" fill="#222" font-family="'Liberation Sans', Arial, sans-serif" >ab</text>
<line x1="638.90" y1="257.80" x2="638.90" y2="262.60" stroke="#1a1a1a" stroke-width="1.8"/>
<text x="638.90" y="271.80" font-size="8.6" font-weight="bold" text-anchor="middle" fill="#222" font-family="'Liberation Sans', Arial, sans-serif">LC<tspan font-size="6.19" font-weight="normal" dy="2" fill="#777">5</tspan></text>
<rect x="666.70" y="187.20" width="26.60" height="70.60" fill="#f0a3b5" stroke="#7a4554" stroke-width="1"/>
<line x1="680.00" y1="184.50" x2="680.00" y2="187.20" stroke="#7a4554" stroke-width="1.4"/>
<line x1="673.50" y1="184.50" x2="686.50" y2="184.50" stroke="#7a4554" stroke-width="1.5"/>
<text x="680.00" y="177.20" font-size="8.8" font-weight="bold" font-style="normal" text-anchor="middle" fill="#222" font-family="'Liberation Sans', Arial, sans-serif" >ab</text>
<line x1="680.00" y1="257.80" x2="680.00" y2="262.60" stroke="#1a1a1a" stroke-width="1.8"/>
<text x="680.00" y="271.80" font-size="8.6" font-weight="bold" text-anchor="middle" fill="#222" font-family="'Liberation Sans', Arial, sans-serif">LC<tspan font-size="6.19" font-weight="normal" dy="2" fill="#777">10</tspan></text>
<rect x="707.70" y="193.50" width="26.70" height="64.30" fill="#d84c73" stroke="#6e2038" stroke-width="1"/>
<line x1="721.05" y1="188.40" x2="721.05" y2="193.50" stroke="#6e2038" stroke-width="1.4"/>
<line x1="714.55" y1="188.40" x2="727.55" y2="188.40" stroke="#6e2038" stroke-width="1.5"/>
<text x="721.05" y="182.80" font-size="8.8" font-weight="bold" font-style="normal" text-anchor="middle" fill="#222" font-family="'Liberation Sans', Arial, sans-serif" >b</text>
<line x1="721.05" y1="257.80" x2="721.05" y2="262.60" stroke="#1a1a1a" stroke-width="1.8"/>
<text x="721.05" y="271.80" font-size="8.6" font-weight="bold" text-anchor="middle" fill="#222" font-family="'Liberation Sans', Arial, sans-serif">LC<tspan font-size="6.19" font-weight="normal" dy="2" fill="#777">30</tspan></text>
<text transform="translate(541.30,202.80) rotate(-90)" x="0" y="0" font-size="10.0" font-weight="bold" text-anchor="middle" fill="#222" font-family="'Liberation Sans', Arial, sans-serif">Larvae weight (g)</text>
<line x1="800.60" y1="144.40" x2="800.60" y2="255.60" stroke="#1a1a1a" stroke-width="2"/>
<line x1="796.90" y1="255.60" x2="980.80" y2="255.60" stroke="#1a1a1a" stroke-width="2"/>
<line x1="796.60" y1="255.60" x2="800.60" y2="255.60" stroke="#1a1a1a" stroke-width="1.4"/>
<text x="794.30" y="258.80" font-size="9.0" font-weight="bold" font-style="normal" text-anchor="end" fill="#333" font-family="'Liberation Sans', Arial, sans-serif" >0.00</text>
<line x1="796.60" y1="233.52" x2="800.60" y2="233.52" stroke="#1a1a1a" stroke-width="1.4"/>
<text x="794.30" y="236.72" font-size="9.0" font-weight="bold" font-style="normal" text-anchor="end" fill="#333" font-family="'Liberation Sans', Arial, sans-serif" >0.05</text>
<line x1="796.60" y1="211.44" x2="800.60" y2="211.44" stroke="#1a1a1a" stroke-width="1.4"/>
<text x="794.30" y="214.64" font-size="9.0" font-weight="bold" font-style="normal" text-anchor="end" fill="#333" font-family="'Liberation Sans', Arial, sans-serif" >0.10</text>
<line x1="796.60" y1="189.36" x2="800.60" y2="189.36" stroke="#1a1a1a" stroke-width="1.4"/>
<text x="794.30" y="192.56" font-size="9.0" font-weight="bold" font-style="normal" text-anchor="end" fill="#333" font-family="'Liberation Sans', Arial, sans-serif" >0.15</text>
<line x1="796.60" y1="167.28" x2="800.60" y2="167.28" stroke="#1a1a1a" stroke-width="1.4"/>
<text x="794.30" y="170.48" font-size="9.0" font-weight="bold" font-style="normal" text-anchor="end" fill="#333" font-family="'Liberation Sans', Arial, sans-serif" >0.20</text>
<line x1="796.60" y1="145.20" x2="800.60" y2="145.20" stroke="#1a1a1a" stroke-width="1.4"/>
<text x="794.30" y="148.40" font-size="9.0" font-weight="bold" font-style="normal" text-anchor="end" fill="#333" font-family="'Liberation Sans', Arial, sans-serif" >0.25</text>
<rect x="816.40" y="159.10" width="26.20" height="96.50" fill="#386599" stroke="#1f3d60" stroke-width="1"/>
<line x1="829.50" y1="153.40" x2="829.50" y2="159.10" stroke="#1f3d60" stroke-width="1.4"/>
<line x1="823.00" y1="153.40" x2="836.00" y2="153.40" stroke="#1f3d60" stroke-width="1.5"/>
<text x="829.50" y="149.60" font-size="8.8" font-weight="bold" font-style="normal" text-anchor="middle" fill="#222" font-family="'Liberation Sans', Arial, sans-serif" >a</text>
<line x1="829.50" y1="255.60" x2="829.50" y2="260.40" stroke="#1a1a1a" stroke-width="1.8"/>
<text x="829.50" y="270.40" font-size="8.6" font-weight="bold" font-style="normal" text-anchor="middle" fill="#222" font-family="'Liberation Sans', Arial, sans-serif" >CK</text>
<rect x="857.30" y="176.20" width="27.10" height="79.40" fill="#6cb5d3" stroke="#2d5565" stroke-width="1"/>
<line x1="870.85" y1="168.10" x2="870.85" y2="176.20" stroke="#2d5565" stroke-width="1.4"/>
<line x1="864.35" y1="168.10" x2="877.35" y2="168.10" stroke="#2d5565" stroke-width="1.5"/>
<text x="870.85" y="164.20" font-size="8.8" font-weight="bold" font-style="normal" text-anchor="middle" fill="#222" font-family="'Liberation Sans', Arial, sans-serif" >b</text>
<line x1="870.85" y1="255.60" x2="870.85" y2="260.40" stroke="#1a1a1a" stroke-width="1.8"/>
<text x="870.85" y="270.40" font-size="8.6" font-weight="bold" text-anchor="middle" fill="#222" font-family="'Liberation Sans', Arial, sans-serif">LC<tspan font-size="6.19" font-weight="normal" dy="2" fill="#777">5</tspan></text>
<rect x="898.40" y="177.40" width="27.10" height="78.20" fill="#f0a3b5" stroke="#7a4554" stroke-width="1"/>
<line x1="911.95" y1="172.30" x2="911.95" y2="177.40" stroke="#7a4554" stroke-width="1.4"/>
<line x1="905.45" y1="172.30" x2="918.45" y2="172.30" stroke="#7a4554" stroke-width="1.5"/>
<text x="911.95" y="168.40" font-size="8.8" font-weight="bold" font-style="normal" text-anchor="middle" fill="#222" font-family="'Liberation Sans', Arial, sans-serif" >b</text>
<line x1="911.95" y1="255.60" x2="911.95" y2="260.40" stroke="#1a1a1a" stroke-width="1.8"/>
<text x="911.95" y="270.40" font-size="8.6" font-weight="bold" text-anchor="middle" fill="#222" font-family="'Liberation Sans', Arial, sans-serif">LC<tspan font-size="6.19" font-weight="normal" dy="2" fill="#777">10</tspan></text>
<rect x="939.70" y="173.50" width="26.80" height="82.10" fill="#d84c73" stroke="#6e2038" stroke-width="1"/>
<line x1="953.10" y1="171.50" x2="953.10" y2="173.50" stroke="#6e2038" stroke-width="1.4"/>
<line x1="946.60" y1="171.50" x2="959.60" y2="171.50" stroke="#6e2038" stroke-width="1.5"/>
<text x="953.10" y="167.60" font-size="8.8" font-weight="bold" font-style="normal" text-anchor="middle" fill="#222" font-family="'Liberation Sans', Arial, sans-serif" >b</text>
<line x1="953.10" y1="255.60" x2="953.10" y2="260.40" stroke="#1a1a1a" stroke-width="1.8"/>
<text x="953.10" y="270.40" font-size="8.6" font-weight="bold" text-anchor="middle" fill="#222" font-family="'Liberation Sans', Arial, sans-serif">LC<tspan font-size="6.19" font-weight="normal" dy="2" fill="#777">30</tspan></text>
<text transform="translate(772.30,201.00) rotate(-90)" x="0" y="0" font-size="9.8" font-weight="bold" text-anchor="middle" fill="#222" font-family="'Liberation Sans', Arial, sans-serif">pupal weight (g)</text>
<g>
 
 <g stroke="#c9b799" stroke-width="1.8" fill="none" stroke-linecap="round" stroke-linejoin="round">
  <path d="M656,318 L640,320.5 L609,327.5"/>
  <path d="M653,340 L640,349 L633,357 L620,369"/>
  <path d="M683,313 L700,320 L717,327.5"/>
  <path d="M688,338 L704,349 L718.5,360"/>
 </g>
 <g stroke="#b8a587" stroke-width="1.0" fill="none" stroke-linecap="round">
  <path d="M664,300 L652,296 L644.5,293.5"/>
  <path d="M663,303 Q648,310 634.5,319"/>
  <path d="M676,298 Q695,302 709,316.5"/>
  <path d="M675,297 L678,289.5"/>
 </g>
 <path d="M659,303.5 C662,300.5 678,300.5 681.5,303.5 C684,318 688.5,345 691.5,372 C692.8,382 692.8,388.5 689,390.8 C684,392.8 675,392.8 669.5,390 C664,392.8 652,393.2 647.5,391 C643.8,389 643.8,382 645,372 C647.5,345 654,318 659,303.5 Z" fill="url(#mothG)"/>
 <path d="M659,303.5 C662,300.5 678,300.5 681.5,303.5 C684,318 688.5,345 691.5,372 C692.8,382 692.8,388.5 689,390.8 C684,392.8 675,392.8 669.5,390 C664,392.8 652,393.2 647.5,391 C643.8,389 643.8,382 645,372 C647.5,345 654,318 659,303.5 Z" fill="url(#mothV)"/>
 <path d="M659,303.5 C662,300.5 678,300.5 681.5,303.5 C684,318 688.5,345 691.5,372 C692.8,382 692.8,388.5 689,390.8 C684,392.8 675,392.8 669.5,390 C664,392.8 652,393.2 647.5,391 C643.8,389 643.8,382 645,372 C647.5,345 654,318 659,303.5 Z" fill="#000" filter="url(#mottle)"/>
 <path d="M669.5,330 L669.5,390" stroke="#b39a76" stroke-width="4" stroke-opacity="0.35" filter="url(#blur2)"/>
 <ellipse cx="670.5" cy="300" rx="7" ry="5" fill="#b79c76"/>
 <ellipse cx="670" cy="323" rx="5" ry="2.5" fill="#c2a37e" fill-opacity="0.6"/>
 <circle cx="665.5" cy="297.5" r="1.8" fill="#2a2018"/>
</g>

<text x="586.10" y="359.60" font-size="29.5" font-weight="normal" font-style="normal" text-anchor="middle" fill="#222" font-family="'WenQuanYi Zen Hei', sans-serif" >♀</text>
<line x1="584.40" y1="373.60" x2="584.40" y2="482.60" stroke="#1a1a1a" stroke-width="2"/>
<line x1="580.00" y1="482.60" x2="758.70" y2="482.60" stroke="#1a1a1a" stroke-width="2"/>
<line x1="580.40" y1="482.60" x2="584.40" y2="482.60" stroke="#1a1a1a" stroke-width="1.4"/>
<text x="578.10" y="485.80" font-size="8.8" font-weight="bold" font-style="normal" text-anchor="end" fill="#333" font-family="'Liberation Sans', Arial, sans-serif" >0</text>
<line x1="580.40" y1="446.53" x2="584.40" y2="446.53" stroke="#1a1a1a" stroke-width="1.4"/>
<text x="578.10" y="449.73" font-size="8.8" font-weight="bold" font-style="normal" text-anchor="end" fill="#333" font-family="'Liberation Sans', Arial, sans-serif" >50</text>
<line x1="580.40" y1="410.47" x2="584.40" y2="410.47" stroke="#1a1a1a" stroke-width="1.4"/>
<text x="578.10" y="413.67" font-size="8.8" font-weight="bold" font-style="normal" text-anchor="end" fill="#333" font-family="'Liberation Sans', Arial, sans-serif" >100</text>
<line x1="580.40" y1="374.40" x2="584.40" y2="374.40" stroke="#1a1a1a" stroke-width="1.4"/>
<text x="578.10" y="377.60" font-size="8.8" font-weight="bold" font-style="normal" text-anchor="end" fill="#333" font-family="'Liberation Sans', Arial, sans-serif" >150</text>
<rect x="598.10" y="410.40" width="26.00" height="72.20" fill="#386599" stroke="#1f3d60" stroke-width="1"/>
<line x1="611.10" y1="409.20" x2="611.10" y2="410.40" stroke="#1f3d60" stroke-width="1.4"/>
<line x1="604.60" y1="409.20" x2="617.60" y2="409.20" stroke="#1f3d60" stroke-width="1.5"/>
<text x="611.10" y="402.30" font-size="9.0" font-weight="bold" font-style="normal" text-anchor="middle" fill="#222" font-family="'Liberation Sans', Arial, sans-serif" >a</text>
<line x1="611.10" y1="482.60" x2="611.10" y2="487.40" stroke="#1a1a1a" stroke-width="1.8"/>
<text x="611.10" y="497.20" font-size="9.0" font-weight="bold" font-style="normal" text-anchor="middle" fill="#222" font-family="'Liberation Sans', Arial, sans-serif" >CK</text>
<rect x="638.30" y="414.00" width="26.40" height="68.60" fill="#6cb5d3" stroke="#2d5565" stroke-width="1"/>
<line x1="651.50" y1="413.00" x2="651.50" y2="414.00" stroke="#2d5565" stroke-width="1.4"/>
<line x1="645.00" y1="413.00" x2="658.00" y2="413.00" stroke="#2d5565" stroke-width="1.5"/>
<text x="651.50" y="406.60" font-size="9.0" font-weight="bold" font-style="normal" text-anchor="middle" fill="#222" font-family="'Liberation Sans', Arial, sans-serif" >b</text>
<line x1="651.50" y1="482.60" x2="651.50" y2="487.40" stroke="#1a1a1a" stroke-width="1.8"/>
<text x="651.50" y="497.20" font-size="9.0" font-weight="bold" text-anchor="middle" fill="#222" font-family="'Liberation Sans', Arial, sans-serif">LC<tspan font-size="6.48" font-weight="normal" dy="2" fill="#777">5</tspan></text>
<rect x="679.00" y="424.00" width="26.40" height="58.60" fill="#f0a3b5" stroke="#7a4554" stroke-width="1"/>
<line x1="692.20" y1="423.00" x2="692.20" y2="424.00" stroke="#7a4554" stroke-width="1.4"/>
<line x1="685.70" y1="423.00" x2="698.70" y2="423.00" stroke="#7a4554" stroke-width="1.5"/>
<text x="692.20" y="416.50" font-size="9.0" font-weight="bold" font-style="normal" text-anchor="middle" fill="#222" font-family="'Liberation Sans', Arial, sans-serif" >c</text>
<line x1="692.20" y1="482.60" x2="692.20" y2="487.40" stroke="#1a1a1a" stroke-width="1.8"/>
<text x="692.20" y="497.20" font-size="9.0" font-weight="bold" text-anchor="middle" fill="#222" font-family="'Liberation Sans', Arial, sans-serif">LC<tspan font-size="6.48" font-weight="normal" dy="2" fill="#777">10</tspan></text>
<rect x="719.20" y="429.00" width="26.40" height="53.60" fill="#d84c73" stroke="#6e2038" stroke-width="1"/>
<line x1="732.40" y1="428.00" x2="732.40" y2="429.00" stroke="#6e2038" stroke-width="1.4"/>
<line x1="725.90" y1="428.00" x2="738.90" y2="428.00" stroke="#6e2038" stroke-width="1.5"/>
<text x="732.40" y="421.80" font-size="9.0" font-weight="bold" font-style="normal" text-anchor="middle" fill="#222" font-family="'Liberation Sans', Arial, sans-serif" >d</text>
<line x1="732.40" y1="482.60" x2="732.40" y2="487.40" stroke="#1a1a1a" stroke-width="1.8"/>
<text x="732.40" y="497.20" font-size="9.0" font-weight="bold" text-anchor="middle" fill="#222" font-family="'Liberation Sans', Arial, sans-serif">LC<tspan font-size="6.48" font-weight="normal" dy="2" fill="#777">30</tspan></text>
<text transform="translate(559.60,428.60) rotate(-90)" x="0" y="0" font-size="10.7" font-weight="bold" text-anchor="middle" fill="#222" font-family="'Liberation Sans', Arial, sans-serif">Z9-14 : OAc (%)</text>
<text x="751.40" y="327.00" font-size="20.6" font-weight="bold" font-style="normal" text-anchor="start" fill="#0a0a0a" font-family="'Liberation Sans', Arial, sans-serif" >Sex pheromone</text>
<text x="773.00" y="361.70" font-size="20.6" font-weight="bold" font-style="normal" text-anchor="start" fill="#0a0a0a" font-family="'Liberation Sans', Arial, sans-serif" >Mating rate</text>
<path d="M922.70,307.70 L926.90,307.70 L926.90,359.00 L932.80,359.00 L924.80,379.70 L916.80,359.00 L922.70,359.00 Z" fill="#cb1020"/>
<rect x="808.40" y="394.00" width="66.30" height="19.70" fill="#386599" stroke="#1f3d60" stroke-width="0.8"/>
<rect x="874.70" y="394.00" width="27.80" height="19.70" fill="#d84c73" stroke="#6e2038" stroke-width="0.8"/>
<text x="841.55" y="406.75" font-size="8.0" font-weight="bold" font-style="normal" text-anchor="middle" fill="#fff" font-family="'Liberation Sans', Arial, sans-serif" >CK</text>
<text x="888.60" y="406.75" font-size="8.0" font-weight="bold" text-anchor="middle" fill="#fff" font-family="'Liberation Sans', Arial, sans-serif">LC<tspan font-size="5.60" dy="2">30</tspan></text>
<rect x="817.50" y="424.20" width="57.20" height="19.70" fill="#386599" stroke="#1f3d60" stroke-width="0.8"/>
<rect x="874.70" y="424.20" width="37.00" height="19.70" fill="#f0a3b5" stroke="#7a4554" stroke-width="0.8"/>
<text x="846.10" y="436.95" font-size="8.0" font-weight="bold" font-style="normal" text-anchor="middle" fill="#fff" font-family="'Liberation Sans', Arial, sans-serif" >CK</text>
<text x="893.20" y="436.95" font-size="8.0" font-weight="bold" text-anchor="middle" fill="#fff" font-family="'Liberation Sans', Arial, sans-serif">LC<tspan font-size="5.60" dy="2">10</tspan></text>
<rect x="829.60" y="454.30" width="45.10" height="19.70" fill="#386599" stroke="#1f3d60" stroke-width="0.8"/>
<rect x="874.70" y="454.30" width="41.00" height="19.70" fill="#6cb5d3" stroke="#2d5565" stroke-width="0.8"/>
<text x="852.15" y="467.05" font-size="8.0" font-weight="bold" font-style="normal" text-anchor="middle" fill="#fff" font-family="'Liberation Sans', Arial, sans-serif" >CK</text>
<text x="895.20" y="467.05" font-size="8.0" font-weight="bold" text-anchor="middle" fill="#fff" font-family="'Liberation Sans', Arial, sans-serif">LC<tspan font-size="5.60" dy="2">5</tspan></text>
<line x1="874.70" y1="390.30" x2="874.70" y2="477.70" stroke="#111" stroke-width="1.4"/>
<line x1="774.00" y1="484.50" x2="924.40" y2="484.50" stroke="#1a1a1a" stroke-width="1.5"/>
<line x1="774.00" y1="482.00" x2="774.00" y2="485.00" stroke="#1a1a1a" stroke-width="1.4"/>
<line x1="824.35" y1="482.00" x2="824.35" y2="485.00" stroke="#1a1a1a" stroke-width="1.4"/>
<line x1="874.70" y1="482.00" x2="874.70" y2="485.00" stroke="#1a1a1a" stroke-width="1.4"/>
<line x1="924.40" y1="482.00" x2="924.40" y2="485.00" stroke="#1a1a1a" stroke-width="1.4"/>
<text x="776.00" y="495.80" font-size="9.3" font-weight="bold" font-style="normal" text-anchor="middle" fill="#222" font-family="'Liberation Sans', Arial, sans-serif" >100</text>
<text x="825.50" y="495.80" font-size="9.3" font-weight="bold" font-style="normal" text-anchor="middle" fill="#222" font-family="'Liberation Sans', Arial, sans-serif" >50</text>
<text x="874.40" y="495.80" font-size="9.3" font-weight="bold" font-style="normal" text-anchor="middle" fill="#222" font-family="'Liberation Sans', Arial, sans-serif" >0</text>
<text x="925.00" y="495.80" font-size="9.3" font-weight="bold" font-style="normal" text-anchor="middle" fill="#222" font-family="'Liberation Sans', Arial, sans-serif" >50</text>
<text x="849.70" y="510.90" font-size="8.2" font-weight="bold" font-style="normal" text-anchor="middle" fill="#222" font-family="'Liberation Sans', Arial, sans-serif" >Female ability to attract males (%)</text>
<text x="910.90" y="407.30" font-size="7.7" font-weight="bold" fill="#222" font-family="'Liberation Sans', Arial, sans-serif"><tspan font-style="italic">n</tspan>=94 <tspan font-style="italic">χ</tspan><tspan font-size="4.77" dy="-3">2</tspan><tspan dy="3">=8.24 </tspan><tspan font-style="italic">P</tspan>=0.0041</text>
<text x="919.60" y="436.70" font-size="7.7" font-weight="bold" fill="#222" font-family="'Liberation Sans', Arial, sans-serif"><tspan font-style="italic">n</tspan>=94 <tspan font-style="italic">χ</tspan><tspan font-size="4.77" dy="-3">2</tspan><tspan dy="3">=8.38 </tspan><tspan font-style="italic">P</tspan>=0.039</text>
<text x="923.60" y="466.10" font-size="7.7" font-weight="bold" fill="#222" font-family="'Liberation Sans', Arial, sans-serif"><tspan font-style="italic">n</tspan>=86 <tspan font-style="italic">χ</tspan><tspan font-size="4.77" dy="-3">2</tspan><tspan dy="3">=0.19 </tspan><tspan font-style="italic">P</tspan>=0.666</text>
<text x="806.00" y="410.20" font-size="9.6" font-weight="bold" font-style="normal" text-anchor="end" fill="#222" font-family="'Liberation Sans', Arial, sans-serif" >* * *</text>
<text x="812.00" y="437.00" font-size="9.6" font-weight="bold" font-style="normal" text-anchor="end" fill="#222" font-family="'Liberation Sans', Arial, sans-serif" >*</text>
<text x="825.10" y="469.00" font-size="9.2" font-weight="bold" font-style="normal" text-anchor="end" fill="#222" font-family="'Liberation Sans', Arial, sans-serif" >NS</text>
<g transform="translate(1192.2,52.9) scale(1.08,0.97)"><g>
 <g filter="url(#blurC)">
 <path d="M3.76,2.00 Q8.60,-1.0 13.38,2.00 L13.45,3.17 L13.58,4.34 L14.00,5.51 L14.30,6.69 L14.45,7.86 L14.47,9.03 L14.76,10.20 L15.14,11.37 L15.25,12.54 L15.08,13.71 L14.84,14.89 L15.01,16.06 L15.08,17.23 L14.98,18.40 L14.76,19.57 L14.69,20.74 L14.82,21.91 L14.83,23.09 L14.67,24.26 L14.41,25.43 L14.51,26.60 L14.60,27.77 L14.54,28.94 L14.33,30.11 L14.16,31.29 L14.30,32.46 L14.33,33.63 L14.21,34.80 L13.95,35.97 L13.95,37.14 L14.06,38.31 L14.03,39.49 L13.84,40.66 L13.57,41.83 L13.73,43.00 L13.79,44.17 L13.69,45.34 L13.46,46.51 L13.35,47.69 L13.48,48.86 L13.48,50.03 L13.32,51.20 L13.05,52.37 L13.12,53.54 L13.20,54.71 L13.14,55.89 L12.92,57.06 L12.72,58.23 L12.86,59.40 L12.89,60.57 L12.76,61.74 L12.50,62.91 L12.47,64.09 L12.58,65.26 L12.54,66.43 L12.35,67.60 L12.06,68.77 L12.20,69.94 L12.26,71.11 L12.16,72.29 L11.92,73.46 L11.79,74.63 L11.92,75.80 L11.91,76.97 L11.75,78.14 L11.41,79.31 L11.27,80.49 L11.06,81.66 L10.60,82.83 L9.88,84.00 Q4.80,87.2 -0.05,84.00 L-0.64,82.83 L-0.97,81.66 L-1.04,80.49 L-1.05,79.31 L-1.26,78.14 L-1.29,76.97 L-1.16,75.80 L-0.91,74.63 L-0.92,73.46 L-1.03,72.29 L-1.00,71.11 L-0.81,69.94 L-0.55,68.77 L-0.71,67.60 L-0.77,66.43 L-0.68,65.26 L-0.46,64.09 L-0.36,62.91 L-0.50,61.74 L-0.51,60.57 L-0.36,59.40 L-0.10,58.23 L-0.18,57.06 L-0.27,55.89 L-0.22,54.71 L-0.02,53.54 L0.16,52.37 L0.01,51.20 L-0.04,50.03 L0.07,48.86 L0.31,47.69 L0.33,46.51 L0.20,45.34 L0.22,44.17 L0.38,43.00 L0.65,41.83 L0.49,40.66 L0.41,39.49 L0.48,38.31 L0.69,37.14 L0.80,35.97 L0.65,34.80 L0.62,33.63 L0.76,32.46 L1.00,31.29 L0.93,30.11 L0.82,28.94 L0.85,27.77 L1.04,26.60 L1.23,25.43 L1.06,24.26 L1.00,23.09 L1.09,21.91 L1.31,20.74 L1.33,19.57 L1.19,18.40 L1.18,17.23 L1.33,16.06 L1.58,14.89 L1.42,13.71 L1.32,12.54 L1.51,11.37 L1.96,10.20 L2.33,9.03 L2.41,7.86 L2.62,6.69 L2.98,5.51 L3.46,4.34 L3.65,3.17 L3.76,2.00 Z" fill="url(#catG)"/>
 <path d="M3.76,2.00 Q8.60,-1.0 13.38,2.00 L13.45,3.17 L13.58,4.34 L14.00,5.51 L14.30,6.69 L14.45,7.86 L14.47,9.03 L14.76,10.20 L15.14,11.37 L15.25,12.54 L15.08,13.71 L14.84,14.89 L15.01,16.06 L15.08,17.23 L14.98,18.40 L14.76,19.57 L14.69,20.74 L14.82,21.91 L14.83,23.09 L14.67,24.26 L14.41,25.43 L14.51,26.60 L14.60,27.77 L14.54,28.94 L14.33,30.11 L14.16,31.29 L14.30,32.46 L14.33,33.63 L14.21,34.80 L13.95,35.97 L13.95,37.14 L14.06,38.31 L14.03,39.49 L13.84,40.66 L13.57,41.83 L13.73,43.00 L13.79,44.17 L13.69,45.34 L13.46,46.51 L13.35,47.69 L13.48,48.86 L13.48,50.03 L13.32,51.20 L13.05,52.37 L13.12,53.54 L13.20,54.71 L13.14,55.89 L12.92,57.06 L12.72,58.23 L12.86,59.40 L12.89,60.57 L12.76,61.74 L12.50,62.91 L12.47,64.09 L12.58,65.26 L12.54,66.43 L12.35,67.60 L12.06,68.77 L12.20,69.94 L12.26,71.11 L12.16,72.29 L11.92,73.46 L11.79,74.63 L11.92,75.80 L11.91,76.97 L11.75,78.14 L11.41,79.31 L11.27,80.49 L11.06,81.66 L10.60,82.83 L9.88,84.00 Q4.80,87.2 -0.05,84.00 L-0.64,82.83 L-0.97,81.66 L-1.04,80.49 L-1.05,79.31 L-1.26,78.14 L-1.29,76.97 L-1.16,75.80 L-0.91,74.63 L-0.92,73.46 L-1.03,72.29 L-1.00,71.11 L-0.81,69.94 L-0.55,68.77 L-0.71,67.60 L-0.77,66.43 L-0.68,65.26 L-0.46,64.09 L-0.36,62.91 L-0.50,61.74 L-0.51,60.57 L-0.36,59.40 L-0.10,58.23 L-0.18,57.06 L-0.27,55.89 L-0.22,54.71 L-0.02,53.54 L0.16,52.37 L0.01,51.20 L-0.04,50.03 L0.07,48.86 L0.31,47.69 L0.33,46.51 L0.20,45.34 L0.22,44.17 L0.38,43.00 L0.65,41.83 L0.49,40.66 L0.41,39.49 L0.48,38.31 L0.69,37.14 L0.80,35.97 L0.65,34.80 L0.62,33.63 L0.76,32.46 L1.00,31.29 L0.93,30.11 L0.82,28.94 L0.85,27.77 L1.04,26.60 L1.23,25.43 L1.06,24.26 L1.00,23.09 L1.09,21.91 L1.31,20.74 L1.33,19.57 L1.19,18.40 L1.18,17.23 L1.33,16.06 L1.58,14.89 L1.42,13.71 L1.32,12.54 L1.51,11.37 L1.96,10.20 L2.33,9.03 L2.41,7.86 L2.62,6.69 L2.98,5.51 L3.46,4.34 L3.65,3.17 L3.76,2.00 Z" fill="url(#catS)"/>
 <path d="M10.83,6 L11.40,8.00 L12.14,12.00 L11.98,16.00 L11.81,20.00 L11.64,24.00 L11.45,28.00 L11.26,32.00 L11.07,36.00 L10.86,40.00 L10.65,44.00 L10.44,48.00 L10.22,52.00 L10.00,56.00 L9.77,60.00 L9.54,64.00 L9.30,68.00 L9.07,72.00 L8.82,76.00 L8.42,80.00 L9.99,84.00 L11.52,80.00 L11.92,76.00 L12.17,72.00 L12.40,68.00 L12.64,64.00 L12.87,60.00 L13.10,56.00 L13.32,52.00 L13.54,48.00 L13.75,44.00 L13.96,40.00 L14.17,36.00 L14.36,32.00 L14.55,28.00 L14.74,24.00 L14.91,20.00 L15.08,16.00 L15.24,12.00 L14.50,8.00 Z" fill="#3e2f1c" fill-opacity="0.25"/>
 <path d="M2.15,13.00 Q8.27,14.20 14.40,13.00 M1.99,18.50 Q8.08,19.70 14.18,18.50 M1.82,24.00 Q7.88,25.20 13.94,24.00 M1.63,29.50 Q7.65,30.70 13.68,29.50 M1.42,35.00 Q7.42,36.20 13.42,35.00 M1.21,40.50 Q7.17,41.70 13.14,40.50 M0.98,46.00 Q6.92,47.20 12.85,46.00 M0.75,51.50 Q6.65,52.70 12.55,51.50 M0.51,57.00 Q6.37,58.20 12.24,57.00 M0.25,62.50 Q6.09,63.70 11.93,62.50 M-0.00,68.00 Q5.80,69.20 11.60,68.00 M-0.27,73.50 Q5.50,74.70 11.27,73.50 M-0.50,79.00 Q5.20,80.20 10.90,79.00" stroke="#3d2f1c" stroke-opacity="0.18" stroke-width="0.7" fill="none"/>
 <path d="M3.76,2.00 Q8.60,-1.0 13.38,2.00 L13.45,3.17 L13.58,4.34 L14.00,5.51 L14.30,6.69 L14.45,7.86 L14.47,9.03 L14.76,10.20 L15.14,11.37 L15.25,12.54 L15.08,13.71 L14.84,14.89 L15.01,16.06 L15.08,17.23 L14.98,18.40 L14.76,19.57 L14.69,20.74 L14.82,21.91 L14.83,23.09 L14.67,24.26 L14.41,25.43 L14.51,26.60 L14.60,27.77 L14.54,28.94 L14.33,30.11 L14.16,31.29 L14.30,32.46 L14.33,33.63 L14.21,34.80 L13.95,35.97 L13.95,37.14 L14.06,38.31 L14.03,39.49 L13.84,40.66 L13.57,41.83 L13.73,43.00 L13.79,44.17 L13.69,45.34 L13.46,46.51 L13.35,47.69 L13.48,48.86 L13.48,50.03 L13.32,51.20 L13.05,52.37 L13.12,53.54 L13.20,54.71 L13.14,55.89 L12.92,57.06 L12.72,58.23 L12.86,59.40 L12.89,60.57 L12.76,61.74 L12.50,62.91 L12.47,64.09 L12.58,65.26 L12.54,66.43 L12.35,67.60 L12.06,68.77 L12.20,69.94 L12.26,71.11 L12.16,72.29 L11.92,73.46 L11.79,74.63 L11.92,75.80 L11.91,76.97 L11.75,78.14 L11.41,79.31 L11.27,80.49 L11.06,81.66 L10.60,82.83 L9.88,84.00 Q4.80,87.2 -0.05,84.00 L-0.64,82.83 L-0.97,81.66 L-1.04,80.49 L-1.05,79.31 L-1.26,78.14 L-1.29,76.97 L-1.16,75.80 L-0.91,74.63 L-0.92,73.46 L-1.03,72.29 L-1.00,71.11 L-0.81,69.94 L-0.55,68.77 L-0.71,67.60 L-0.77,66.43 L-0.68,65.26 L-0.46,64.09 L-0.36,62.91 L-0.50,61.74 L-0.51,60.57 L-0.36,59.40 L-0.10,58.23 L-0.18,57.06 L-0.27,55.89 L-0.22,54.71 L-0.02,53.54 L0.16,52.37 L0.01,51.20 L-0.04,50.03 L0.07,48.86 L0.31,47.69 L0.33,46.51 L0.20,45.34 L0.22,44.17 L0.38,43.00 L0.65,41.83 L0.49,40.66 L0.41,39.49 L0.48,38.31 L0.69,37.14 L0.80,35.97 L0.65,34.80 L0.62,33.63 L0.76,32.46 L1.00,31.29 L0.93,30.11 L0.82,28.94 L0.85,27.77 L1.04,26.60 L1.23,25.43 L1.06,24.26 L1.00,23.09 L1.09,21.91 L1.31,20.74 L1.33,19.57 L1.19,18.40 L1.18,17.23 L1.33,16.06 L1.58,14.89 L1.42,13.71 L1.32,12.54 L1.51,11.37 L1.96,10.20 L2.33,9.03 L2.41,7.86 L2.62,6.69 L2.98,5.51 L3.46,4.34 L3.65,3.17 L3.76,2.00 Z" fill="#3b2b1c" clip-path="url(#catHeadClip)"/>
 <path d="M6,7.6 Q9,6.2 12.5,7.6" stroke="#8a7a55" stroke-width="0.8" fill="none" stroke-opacity="0.7"/>
 </g>
</g>
</g>
<text x="1220.60" y="84.20" font-size="20.6" font-weight="bold" font-style="normal" text-anchor="start" fill="#0a0a0a" font-family="'Liberation Sans', Arial, sans-serif" >Larval&#160;&#160;weight</text>
<text x="1229.80" y="110.10" font-size="20.6" font-weight="bold" font-style="normal" text-anchor="start" fill="#0a0a0a" font-family="'Liberation Sans', Arial, sans-serif" >pupal weight</text>
<path d="M1380.40,53.00 L1384.60,53.00 L1384.60,104.80 L1390.50,104.80 L1382.50,124.60 L1374.50,104.80 L1380.40,104.80 Z" fill="#cb1020"/>
<line x1="1104.30" y1="148.30" x2="1104.30" y2="257.30" stroke="#1a1a1a" stroke-width="2"/>
<line x1="1099.80" y1="257.30" x2="1280.00" y2="257.30" stroke="#1a1a1a" stroke-width="2"/>
<line x1="1100.30" y1="257.30" x2="1104.30" y2="257.30" stroke="#1a1a1a" stroke-width="1.4"/>
<text x="1098.00" y="260.50" font-size="9.0" font-weight="bold" font-style="normal" text-anchor="end" fill="#333" font-family="'Liberation Sans', Arial, sans-serif" >0.00</text>
<line x1="1100.30" y1="235.66" x2="1104.30" y2="235.66" stroke="#1a1a1a" stroke-width="1.4"/>
<text x="1098.00" y="238.86" font-size="9.0" font-weight="bold" font-style="normal" text-anchor="end" fill="#333" font-family="'Liberation Sans', Arial, sans-serif" >0.05</text>
<line x1="1100.30" y1="214.02" x2="1104.30" y2="214.02" stroke="#1a1a1a" stroke-width="1.4"/>
<text x="1098.00" y="217.22" font-size="9.0" font-weight="bold" font-style="normal" text-anchor="end" fill="#333" font-family="'Liberation Sans', Arial, sans-serif" >0.10</text>
<line x1="1100.30" y1="192.38" x2="1104.30" y2="192.38" stroke="#1a1a1a" stroke-width="1.4"/>
<text x="1098.00" y="195.58" font-size="9.0" font-weight="bold" font-style="normal" text-anchor="end" fill="#333" font-family="'Liberation Sans', Arial, sans-serif" >0.15</text>
<line x1="1100.30" y1="170.74" x2="1104.30" y2="170.74" stroke="#1a1a1a" stroke-width="1.4"/>
<text x="1098.00" y="173.94" font-size="9.0" font-weight="bold" font-style="normal" text-anchor="end" fill="#333" font-family="'Liberation Sans', Arial, sans-serif" >0.20</text>
<line x1="1100.30" y1="149.10" x2="1104.30" y2="149.10" stroke="#1a1a1a" stroke-width="1.4"/>
<text x="1098.00" y="152.30" font-size="9.0" font-weight="bold" font-style="normal" text-anchor="end" fill="#333" font-family="'Liberation Sans', Arial, sans-serif" >0.25</text>
<rect x="1118.40" y="172.80" width="26.20" height="84.50" fill="#386599" stroke="#1f3d60" stroke-width="1"/>
<line x1="1131.50" y1="166.00" x2="1131.50" y2="172.80" stroke="#1f3d60" stroke-width="1.4"/>
<line x1="1125.00" y1="166.00" x2="1138.00" y2="166.00" stroke="#1f3d60" stroke-width="1.5"/>
<text x="1131.50" y="159.80" font-size="8.8" font-weight="bold" font-style="normal" text-anchor="middle" fill="#222" font-family="'Liberation Sans', Arial, sans-serif" >a</text>
<line x1="1131.50" y1="257.30" x2="1131.50" y2="262.10" stroke="#1a1a1a" stroke-width="1.8"/>
<text x="1131.50" y="271.80" font-size="8.6" font-weight="bold" font-style="normal" text-anchor="middle" fill="#222" font-family="'Liberation Sans', Arial, sans-serif" >CK</text>
<rect x="1158.50" y="184.20" width="26.40" height="73.10" fill="#6cb5d3" stroke="#2d5565" stroke-width="1"/>
<line x1="1171.70" y1="171.10" x2="1171.70" y2="184.20" stroke="#2d5565" stroke-width="1.4"/>
<line x1="1165.20" y1="171.10" x2="1178.20" y2="171.10" stroke="#2d5565" stroke-width="1.5"/>
<text x="1171.70" y="165.90" font-size="8.8" font-weight="bold" font-style="normal" text-anchor="middle" fill="#222" font-family="'Liberation Sans', Arial, sans-serif" >ab</text>
<line x1="1171.70" y1="257.30" x2="1171.70" y2="262.10" stroke="#1a1a1a" stroke-width="1.8"/>
<text x="1171.70" y="271.80" font-size="8.6" font-weight="bold" text-anchor="middle" fill="#222" font-family="'Liberation Sans', Arial, sans-serif">LC<tspan font-size="6.19" font-weight="normal" dy="2" fill="#777">5</tspan></text>
<rect x="1198.80" y="181.30" width="26.50" height="76.00" fill="#f0a3b5" stroke="#7a4554" stroke-width="1"/>
<line x1="1212.05" y1="175.00" x2="1212.05" y2="181.30" stroke="#7a4554" stroke-width="1.4"/>
<line x1="1205.55" y1="175.00" x2="1218.55" y2="175.00" stroke="#7a4554" stroke-width="1.5"/>
<text x="1212.05" y="169.80" font-size="8.8" font-weight="bold" font-style="normal" text-anchor="middle" fill="#222" font-family="'Liberation Sans', Arial, sans-serif" >ab</text>
<line x1="1212.05" y1="257.30" x2="1212.05" y2="262.10" stroke="#1a1a1a" stroke-width="1.8"/>
<text x="1212.05" y="271.80" font-size="8.6" font-weight="bold" text-anchor="middle" fill="#222" font-family="'Liberation Sans', Arial, sans-serif">LC<tspan font-size="6.19" font-weight="normal" dy="2" fill="#777">10</tspan></text>
<rect x="1239.40" y="192.30" width="26.20" height="65.00" fill="#d84c73" stroke="#6e2038" stroke-width="1"/>
<line x1="1252.50" y1="186.20" x2="1252.50" y2="192.30" stroke="#6e2038" stroke-width="1.4"/>
<line x1="1246.00" y1="186.20" x2="1259.00" y2="186.20" stroke="#6e2038" stroke-width="1.5"/>
<text x="1252.50" y="181.60" font-size="8.8" font-weight="bold" font-style="normal" text-anchor="middle" fill="#222" font-family="'Liberation Sans', Arial, sans-serif" >b</text>
<line x1="1252.50" y1="257.30" x2="1252.50" y2="262.10" stroke="#1a1a1a" stroke-width="1.8"/>
<text x="1252.50" y="271.80" font-size="8.6" font-weight="bold" text-anchor="middle" fill="#222" font-family="'Liberation Sans', Arial, sans-serif">LC<tspan font-size="6.19" font-weight="normal" dy="2" fill="#777">30</tspan></text>
<text transform="translate(1075.70,203.00) rotate(-90)" x="0" y="0" font-size="10.0" font-weight="bold" text-anchor="middle" fill="#222" font-family="'Liberation Sans', Arial, sans-serif">Larvae weight (g)</text>
<line x1="1328.90" y1="144.90" x2="1328.90" y2="254.70" stroke="#1a1a1a" stroke-width="2"/>
<line x1="1324.70" y1="254.70" x2="1504.90" y2="254.70" stroke="#1a1a1a" stroke-width="2"/>
<line x1="1324.90" y1="254.70" x2="1328.90" y2="254.70" stroke="#1a1a1a" stroke-width="1.4"/>
<text x="1322.60" y="257.90" font-size="9.0" font-weight="bold" font-style="normal" text-anchor="end" fill="#333" font-family="'Liberation Sans', Arial, sans-serif" >0.00</text>
<line x1="1324.90" y1="232.90" x2="1328.90" y2="232.90" stroke="#1a1a1a" stroke-width="1.4"/>
<text x="1322.60" y="236.10" font-size="9.0" font-weight="bold" font-style="normal" text-anchor="end" fill="#333" font-family="'Liberation Sans', Arial, sans-serif" >0.05</text>
<line x1="1324.90" y1="211.10" x2="1328.90" y2="211.10" stroke="#1a1a1a" stroke-width="1.4"/>
<text x="1322.60" y="214.30" font-size="9.0" font-weight="bold" font-style="normal" text-anchor="end" fill="#333" font-family="'Liberation Sans', Arial, sans-serif" >0.10</text>
<line x1="1324.90" y1="189.30" x2="1328.90" y2="189.30" stroke="#1a1a1a" stroke-width="1.4"/>
<text x="1322.60" y="192.50" font-size="9.0" font-weight="bold" font-style="normal" text-anchor="end" fill="#333" font-family="'Liberation Sans', Arial, sans-serif" >0.15</text>
<line x1="1324.90" y1="167.50" x2="1328.90" y2="167.50" stroke="#1a1a1a" stroke-width="1.4"/>
<text x="1322.60" y="170.70" font-size="9.0" font-weight="bold" font-style="normal" text-anchor="end" fill="#333" font-family="'Liberation Sans', Arial, sans-serif" >0.20</text>
<line x1="1324.90" y1="145.70" x2="1328.90" y2="145.70" stroke="#1a1a1a" stroke-width="1.4"/>
<text x="1322.60" y="148.90" font-size="9.0" font-weight="bold" font-style="normal" text-anchor="end" fill="#333" font-family="'Liberation Sans', Arial, sans-serif" >0.25</text>
<rect x="1343.30" y="162.20" width="25.40" height="92.50" fill="#386599" stroke="#1f3d60" stroke-width="1"/>
<line x1="1356.00" y1="154.50" x2="1356.00" y2="162.20" stroke="#1f3d60" stroke-width="1.4"/>
<line x1="1349.50" y1="154.50" x2="1362.50" y2="154.50" stroke="#1f3d60" stroke-width="1.5"/>
<text x="1356.00" y="148.80" font-size="8.8" font-weight="bold" font-style="normal" text-anchor="middle" fill="#222" font-family="'Liberation Sans', Arial, sans-serif" >a</text>
<line x1="1356.00" y1="254.70" x2="1356.00" y2="259.50" stroke="#1a1a1a" stroke-width="1.8"/>
<text x="1356.00" y="269.20" font-size="8.6" font-weight="bold" font-style="normal" text-anchor="middle" fill="#222" font-family="'Liberation Sans', Arial, sans-serif" >CK</text>
<rect x="1383.60" y="178.20" width="26.20" height="76.50" fill="#6cb5d3" stroke="#2d5565" stroke-width="1"/>
<line x1="1396.70" y1="168.60" x2="1396.70" y2="178.20" stroke="#2d5565" stroke-width="1.4"/>
<line x1="1390.20" y1="168.60" x2="1403.20" y2="168.60" stroke="#2d5565" stroke-width="1.5"/>
<text x="1396.70" y="163.00" font-size="8.8" font-weight="bold" font-style="normal" text-anchor="middle" fill="#222" font-family="'Liberation Sans', Arial, sans-serif" >ab</text>
<line x1="1396.70" y1="254.70" x2="1396.70" y2="259.50" stroke="#1a1a1a" stroke-width="1.8"/>
<text x="1396.70" y="269.20" font-size="8.6" font-weight="bold" text-anchor="middle" fill="#222" font-family="'Liberation Sans', Arial, sans-serif">LC<tspan font-size="6.19" font-weight="normal" dy="2" fill="#777">5</tspan></text>
<rect x="1424.20" y="179.60" width="26.20" height="75.10" fill="#f0a3b5" stroke="#7a4554" stroke-width="1"/>
<line x1="1437.30" y1="171.60" x2="1437.30" y2="179.60" stroke="#7a4554" stroke-width="1.4"/>
<line x1="1430.80" y1="171.60" x2="1443.80" y2="171.60" stroke="#7a4554" stroke-width="1.5"/>
<text x="1437.30" y="166.40" font-size="8.8" font-weight="bold" font-style="normal" text-anchor="middle" fill="#222" font-family="'Liberation Sans', Arial, sans-serif" >b</text>
<line x1="1437.30" y1="254.70" x2="1437.30" y2="259.50" stroke="#1a1a1a" stroke-width="1.8"/>
<text x="1437.30" y="269.20" font-size="8.6" font-weight="bold" text-anchor="middle" fill="#222" font-family="'Liberation Sans', Arial, sans-serif">LC<tspan font-size="6.19" font-weight="normal" dy="2" fill="#777">10</tspan></text>
<rect x="1464.60" y="177.90" width="26.30" height="76.80" fill="#d84c73" stroke="#6e2038" stroke-width="1"/>
<line x1="1477.75" y1="165.50" x2="1477.75" y2="177.90" stroke="#6e2038" stroke-width="1.4"/>
<line x1="1471.25" y1="165.50" x2="1484.25" y2="165.50" stroke="#6e2038" stroke-width="1.5"/>
<text x="1477.75" y="160.30" font-size="8.8" font-weight="bold" font-style="normal" text-anchor="middle" fill="#222" font-family="'Liberation Sans', Arial, sans-serif" >b</text>
<line x1="1477.75" y1="254.70" x2="1477.75" y2="259.50" stroke="#1a1a1a" stroke-width="1.8"/>
<text x="1477.75" y="269.20" font-size="8.6" font-weight="bold" text-anchor="middle" fill="#222" font-family="'Liberation Sans', Arial, sans-serif">LC<tspan font-size="6.19" font-weight="normal" dy="2" fill="#777">30</tspan></text>
<text transform="translate(1300.60,200.20) rotate(-90)" x="0" y="0" font-size="10.0" font-weight="bold" text-anchor="middle" fill="#222" font-family="'Liberation Sans', Arial, sans-serif">pupal weight (g)</text>
<g transform="translate(530.5,-9)"><g>
 
 <g stroke="#c9b799" stroke-width="1.8" fill="none" stroke-linecap="round" stroke-linejoin="round">
  <path d="M656,318 L640,320.5 L609,327.5"/>
  <path d="M653,340 L640,349 L633,357 L620,369"/>
  <path d="M683,313 L700,320 L717,327.5"/>
  <path d="M688,338 L704,349 L718.5,360"/>
 </g>
 <g stroke="#b8a587" stroke-width="1.0" fill="none" stroke-linecap="round">
  <path d="M664,300 L652,296 L644.5,293.5"/>
  <path d="M663,303 Q648,310 634.5,319"/>
  <path d="M676,298 Q695,302 709,316.5"/>
  <path d="M675,297 L678,289.5"/>
 </g>
 <path d="M659,303.5 C662,300.5 678,300.5 681.5,303.5 C684,318 688.5,345 691.5,372 C692.8,382 692.8,388.5 689,390.8 C684,392.8 675,392.8 669.5,390 C664,392.8 652,393.2 647.5,391 C643.8,389 643.8,382 645,372 C647.5,345 654,318 659,303.5 Z" fill="url(#mothG)"/>
 <path d="M659,303.5 C662,300.5 678,300.5 681.5,303.5 C684,318 688.5,345 691.5,372 C692.8,382 692.8,388.5 689,390.8 C684,392.8 675,392.8 669.5,390 C664,392.8 652,393.2 647.5,391 C643.8,389 643.8,382 645,372 C647.5,345 654,318 659,303.5 Z" fill="url(#mothV)"/>
 <path d="M659,303.5 C662,300.5 678,300.5 681.5,303.5 C684,318 688.5,345 691.5,372 C692.8,382 692.8,388.5 689,390.8 C684,392.8 675,392.8 669.5,390 C664,392.8 652,393.2 647.5,391 C643.8,389 643.8,382 645,372 C647.5,345 654,318 659,303.5 Z" fill="#000" filter="url(#mottle)"/>
 <path d="M669.5,330 L669.5,390" stroke="#b39a76" stroke-width="4" stroke-opacity="0.35" filter="url(#blur2)"/>
 <ellipse cx="670.5" cy="300" rx="7" ry="5" fill="#b79c76"/>
 <ellipse cx="670" cy="323" rx="5" ry="2.5" fill="#c2a37e" fill-opacity="0.6"/>
 <circle cx="665.5" cy="297.5" r="1.8" fill="#2a2018"/>
</g>
</g>
<text x="1119.90" y="339.80" font-size="28.5" font-weight="normal" font-style="normal" text-anchor="middle" fill="#222" font-family="'WenQuanYi Zen Hei', sans-serif" >♀</text>
<line x1="1135.00" y1="376.70" x2="1135.00" y2="479.10" stroke="#1a1a1a" stroke-width="2"/>
<line x1="1131.00" y1="479.10" x2="1298.80" y2="479.10" stroke="#1a1a1a" stroke-width="2"/>
<line x1="1131.00" y1="479.10" x2="1135.00" y2="479.10" stroke="#1a1a1a" stroke-width="1.4"/>
<text x="1128.70" y="482.30" font-size="8.4" font-weight="bold" font-style="normal" text-anchor="end" fill="#333" font-family="'Liberation Sans', Arial, sans-serif" >0</text>
<line x1="1131.00" y1="445.23" x2="1135.00" y2="445.23" stroke="#1a1a1a" stroke-width="1.4"/>
<text x="1128.70" y="448.43" font-size="8.4" font-weight="bold" font-style="normal" text-anchor="end" fill="#333" font-family="'Liberation Sans', Arial, sans-serif" >50</text>
<line x1="1131.00" y1="411.37" x2="1135.00" y2="411.37" stroke="#1a1a1a" stroke-width="1.4"/>
<text x="1128.70" y="414.57" font-size="8.4" font-weight="bold" font-style="normal" text-anchor="end" fill="#333" font-family="'Liberation Sans', Arial, sans-serif" >100</text>
<line x1="1131.00" y1="377.50" x2="1135.00" y2="377.50" stroke="#1a1a1a" stroke-width="1.4"/>
<text x="1128.70" y="380.70" font-size="8.4" font-weight="bold" font-style="normal" text-anchor="end" fill="#333" font-family="'Liberation Sans', Arial, sans-serif" >150</text>
<rect x="1147.60" y="411.80" width="24.80" height="67.30" fill="#386599" stroke="#1f3d60" stroke-width="1"/>
<line x1="1160.00" y1="410.50" x2="1160.00" y2="411.80" stroke="#1f3d60" stroke-width="1.4"/>
<line x1="1153.50" y1="410.50" x2="1166.50" y2="410.50" stroke="#1f3d60" stroke-width="1.5"/>
<text x="1160.00" y="408.60" font-size="8.6" font-weight="bold" font-style="normal" text-anchor="middle" fill="#222" font-family="'Liberation Sans', Arial, sans-serif" >a</text>
<line x1="1160.00" y1="479.10" x2="1160.00" y2="483.90" stroke="#1a1a1a" stroke-width="1.8"/>
<text x="1160.00" y="493.80" font-size="8.6" font-weight="bold" font-style="normal" text-anchor="middle" fill="#222" font-family="'Liberation Sans', Arial, sans-serif" >CK</text>
<rect x="1185.30" y="443.60" width="25.00" height="35.50" fill="#6cb5d3" stroke="#2d5565" stroke-width="1"/>
<line x1="1197.80" y1="441.50" x2="1197.80" y2="443.60" stroke="#2d5565" stroke-width="1.4"/>
<line x1="1191.30" y1="441.50" x2="1204.30" y2="441.50" stroke="#2d5565" stroke-width="1.5"/>
<text x="1197.80" y="439.50" font-size="8.6" font-weight="bold" font-style="normal" text-anchor="middle" fill="#222" font-family="'Liberation Sans', Arial, sans-serif" >b</text>
<line x1="1197.80" y1="479.10" x2="1197.80" y2="483.90" stroke="#1a1a1a" stroke-width="1.8"/>
<text x="1197.80" y="493.80" font-size="8.6" font-weight="bold" text-anchor="middle" fill="#222" font-family="'Liberation Sans', Arial, sans-serif">LC<tspan font-size="6.19" font-weight="normal" dy="2" fill="#777">5</tspan></text>
<rect x="1223.20" y="448.60" width="24.80" height="30.50" fill="#f0a3b5" stroke="#7a4554" stroke-width="1"/>
<line x1="1235.60" y1="445.50" x2="1235.60" y2="448.60" stroke="#7a4554" stroke-width="1.4"/>
<line x1="1229.10" y1="445.50" x2="1242.10" y2="445.50" stroke="#7a4554" stroke-width="1.5"/>
<text x="1235.60" y="443.40" font-size="8.6" font-weight="bold" font-style="normal" text-anchor="middle" fill="#222" font-family="'Liberation Sans', Arial, sans-serif" >c</text>
<line x1="1235.60" y1="479.10" x2="1235.60" y2="483.90" stroke="#1a1a1a" stroke-width="1.8"/>
<text x="1235.60" y="493.80" font-size="8.6" font-weight="bold" text-anchor="middle" fill="#222" font-family="'Liberation Sans', Arial, sans-serif">LC<tspan font-size="6.19" font-weight="normal" dy="2" fill="#777">10</tspan></text>
<rect x="1261.10" y="448.10" width="24.70" height="31.00" fill="#d84c73" stroke="#6e2038" stroke-width="1"/>
<line x1="1273.45" y1="446.00" x2="1273.45" y2="448.10" stroke="#6e2038" stroke-width="1.4"/>
<line x1="1266.95" y1="446.00" x2="1279.95" y2="446.00" stroke="#6e2038" stroke-width="1.5"/>
<text x="1273.45" y="443.40" font-size="8.6" font-weight="bold" font-style="normal" text-anchor="middle" fill="#222" font-family="'Liberation Sans', Arial, sans-serif" >c</text>
<line x1="1273.45" y1="479.10" x2="1273.45" y2="483.90" stroke="#1a1a1a" stroke-width="1.8"/>
<text x="1273.45" y="493.80" font-size="8.6" font-weight="bold" text-anchor="middle" fill="#222" font-family="'Liberation Sans', Arial, sans-serif">LC<tspan font-size="6.19" font-weight="normal" dy="2" fill="#777">30</tspan></text>
<text transform="translate(1111.60,428.60) rotate(-90)" x="0" y="0" font-size="10.1" font-weight="bold" text-anchor="middle" fill="#222" font-family="'Liberation Sans', Arial, sans-serif">Z9-14 : OAc (%)</text>
<text x="1267.80" y="315.20" font-size="20.6" font-weight="bold" font-style="normal" text-anchor="start" fill="#0a0a0a" font-family="'Liberation Sans', Arial, sans-serif" >Sex pheromone</text>
<text x="1289.40" y="350.20" font-size="20.6" font-weight="bold" font-style="normal" text-anchor="start" fill="#0a0a0a" font-family="'Liberation Sans', Arial, sans-serif" >Mating rate</text>
<path d="M1429.30,292.20 L1433.50,292.20 L1433.50,344.20 L1439.30,344.20 L1431.40,363.50 L1423.50,344.20 L1429.30,344.20 Z" fill="#cb1020"/>
<rect x="1377.50" y="386.40" width="55.60" height="19.70" fill="#386599" stroke="#1f3d60" stroke-width="0.8"/>
<rect x="1433.10" y="386.40" width="28.60" height="19.70" fill="#d84c73" stroke="#6e2038" stroke-width="0.8"/>
<text x="1405.30" y="399.15" font-size="8.0" font-weight="bold" font-style="normal" text-anchor="middle" fill="#fff" font-family="'Liberation Sans', Arial, sans-serif" >CK</text>
<text x="1447.40" y="399.15" font-size="8.0" font-weight="bold" text-anchor="middle" fill="#fff" font-family="'Liberation Sans', Arial, sans-serif">LC<tspan font-size="5.60" dy="2">30</tspan></text>
<rect x="1374.20" y="417.10" width="58.90" height="19.80" fill="#386599" stroke="#1f3d60" stroke-width="0.8"/>
<rect x="1433.10" y="417.10" width="24.30" height="19.80" fill="#f0a3b5" stroke="#7a4554" stroke-width="0.8"/>
<text x="1403.65" y="429.90" font-size="8.0" font-weight="bold" font-style="normal" text-anchor="middle" fill="#fff" font-family="'Liberation Sans', Arial, sans-serif" >CK</text>
<text x="1445.25" y="429.90" font-size="8.0" font-weight="bold" text-anchor="middle" fill="#fff" font-family="'Liberation Sans', Arial, sans-serif">LC<tspan font-size="5.60" dy="2">10</tspan></text>
<rect x="1380.90" y="447.90" width="52.20" height="19.90" fill="#386599" stroke="#1f3d60" stroke-width="0.8"/>
<rect x="1433.10" y="447.90" width="25.70" height="19.90" fill="#6cb5d3" stroke="#2d5565" stroke-width="0.8"/>
<text x="1407.00" y="460.75" font-size="8.0" font-weight="bold" font-style="normal" text-anchor="middle" fill="#fff" font-family="'Liberation Sans', Arial, sans-serif" >CK</text>
<text x="1445.95" y="460.75" font-size="8.0" font-weight="bold" text-anchor="middle" fill="#fff" font-family="'Liberation Sans', Arial, sans-serif">LC<tspan font-size="5.60" dy="2">5</tspan></text>
<line x1="1433.10" y1="382.70" x2="1433.10" y2="472.40" stroke="#111" stroke-width="1.4"/>
<line x1="1330.20" y1="478.30" x2="1484.20" y2="478.30" stroke="#1a1a1a" stroke-width="1.5"/>
<line x1="1330.20" y1="475.80" x2="1330.20" y2="478.80" stroke="#1a1a1a" stroke-width="1.4"/>
<line x1="1381.65" y1="475.80" x2="1381.65" y2="478.80" stroke="#1a1a1a" stroke-width="1.4"/>
<line x1="1433.10" y1="475.80" x2="1433.10" y2="478.80" stroke="#1a1a1a" stroke-width="1.4"/>
<line x1="1484.20" y1="475.80" x2="1484.20" y2="478.80" stroke="#1a1a1a" stroke-width="1.4"/>
<text x="1331.80" y="490.10" font-size="9.3" font-weight="bold" font-style="normal" text-anchor="middle" fill="#222" font-family="'Liberation Sans', Arial, sans-serif" >100</text>
<text x="1383.00" y="490.10" font-size="9.3" font-weight="bold" font-style="normal" text-anchor="middle" fill="#222" font-family="'Liberation Sans', Arial, sans-serif" >50</text>
<text x="1432.60" y="490.10" font-size="9.3" font-weight="bold" font-style="normal" text-anchor="middle" fill="#222" font-family="'Liberation Sans', Arial, sans-serif" >0</text>
<text x="1484.20" y="490.10" font-size="9.3" font-weight="bold" font-style="normal" text-anchor="middle" fill="#222" font-family="'Liberation Sans', Arial, sans-serif" >50</text>
<text x="1407.20" y="505.90" font-size="8.2" font-weight="bold" font-style="normal" text-anchor="middle" fill="#222" font-family="'Liberation Sans', Arial, sans-serif" >Female ability to attract males (%)</text>
<text x="1464.70" y="399.80" font-size="7.7" font-weight="bold" fill="#222" font-family="'Liberation Sans', Arial, sans-serif"><tspan font-style="italic">n</tspan>=82 <tspan font-style="italic">χ</tspan><tspan font-size="4.77" dy="-3">2</tspan><tspan dy="3">=8.24 </tspan><tspan font-style="italic">P</tspan>=0.004</text>
<text x="1465.90" y="429.40" font-size="7.7" font-weight="bold" fill="#222" font-family="'Liberation Sans', Arial, sans-serif"><tspan font-style="italic">n</tspan>=67 <tspan font-style="italic">χ</tspan><tspan font-size="4.77" dy="-3">2</tspan><tspan dy="3">=13.44 </tspan><tspan font-style="italic">P</tspan>=0.001</text>
<text x="1467.60" y="459.90" font-size="7.7" font-weight="bold" fill="#222" font-family="'Liberation Sans', Arial, sans-serif"><tspan font-style="italic">n</tspan>=76 <tspan font-style="italic">χ</tspan><tspan font-size="4.77" dy="-3">2</tspan><tspan dy="3">=8.89 </tspan><tspan font-style="italic">P</tspan>=0.003</text>
<text x="1374.40" y="401.80" font-size="9.6" font-weight="bold" font-style="normal" text-anchor="end" fill="#222" font-family="'Liberation Sans', Arial, sans-serif" >***</text>
<text x="1371.80" y="432.30" font-size="9.6" font-weight="bold" font-style="normal" text-anchor="end" fill="#222" font-family="'Liberation Sans', Arial, sans-serif" >***</text>
<text x="1376.60" y="463.60" font-size="9.6" font-weight="bold" font-style="normal" text-anchor="end" fill="#222" font-family="'Liberation Sans', Arial, sans-serif" >***</text>
<text x="1085.80" y="545.70" font-size="20.6" font-weight="bold" font-style="normal" text-anchor="start" fill="#0a0a0a" font-family="'Liberation Sans', Arial, sans-serif" >Population parameters:</text>
<text x="1329.10" y="551.00" font-size="23" font-weight="bold" font-style="italic" text-anchor="start" fill="#0a0a0a" font-family="'Liberation Sans', Arial, sans-serif" >R</text>
<text x="1346.60" y="551.00" font-size="30" font-weight="bold" font-style="italic" text-anchor="start" fill="#0a0a0a" font-family="'Liberation Sans', Arial, sans-serif" >,</text>
<text x="1370.60" y="551.00" font-size="23" font-weight="bold" font-style="italic" text-anchor="start" fill="#0a0a0a" font-family="'Liberation Sans', Arial, sans-serif" >λ</text>
<text x="1384.00" y="551.00" font-size="30" font-weight="bold" font-style="italic" text-anchor="start" fill="#0a0a0a" font-family="'Liberation Sans', Arial, sans-serif" >,</text>
<text x="1406.90" y="551.00" font-size="23.5" font-weight="bold" font-style="italic" text-anchor="start" fill="#0a0a0a" font-family="'Liberation Sans', Arial, sans-serif" >R</text>
<text x="1423.80" y="557.00" font-size="16" font-weight="bold" font-style="italic" text-anchor="start" fill="#0a0a0a" font-family="'Liberation Sans', Arial, sans-serif" >0</text>
<text x="1432.60" y="551.00" font-size="30" font-weight="bold" font-style="italic" text-anchor="start" fill="#0a0a0a" font-family="'Liberation Sans', Arial, sans-serif" >,</text>
<text x="1448.80" y="551.00" font-size="23.5" font-weight="bold" font-style="italic" text-anchor="start" fill="#0a0a0a" font-family="'Liberation Sans', Arial, sans-serif" >GRR</text>
<path d="M1522.80,488.30 L1527.00,488.30 L1527.00,541.20 L1532.80,541.20 L1524.90,561.00 L1517.00,541.20 L1522.80,541.20 Z" fill="#cb1020"/>
<ellipse cx="1029.6" cy="738.5" rx="199.6" ry="143.5" fill="#e2e8f5" stroke="#6a84b1" stroke-width="2.8"/>
<path d="M785.10,557.90 C782.38,559.98 773.57,565.05 768.80,570.40 C764.03,575.75 759.77,583.73 756.50,590.00 C753.23,596.27 750.67,602.00 749.20,608.00 C747.73,614.00 747.85,621.17 747.70,626.00 C747.55,630.83 747.87,633.33 748.30,637.00 C748.73,640.67 749.32,644.33 750.30,648.00 C751.28,651.67 752.58,655.33 754.20,659.00 C755.82,662.67 757.78,666.42 760.00,670.00 C762.22,673.58 764.67,677.25 767.50,680.50 C770.33,683.75 773.08,686.25 777.00,689.50 C780.92,692.75 786.17,697.37 791.00,700.00 C795.83,702.63 801.70,704.00 806.00,705.30 C810.30,706.60 815.00,707.38 816.80,707.80 L822.9,721.9 L835.5,705.0 L814.0,689.9 L815.8,698.2 C814.17,698.07 810.13,698.22 806.00,697.40 C801.87,696.58 795.50,695.28 791.00,693.30 C786.50,691.32 782.75,688.38 779.00,685.50 C775.25,682.62 771.58,679.50 768.50,676.00 C765.42,672.50 762.62,668.33 760.50,664.50 C758.38,660.67 756.95,656.58 755.80,653.00 C754.65,649.42 753.95,646.17 753.60,643.00 C753.25,639.83 753.42,637.50 753.70,634.00 C753.98,630.50 754.20,626.33 755.30,622.00 C756.40,617.67 757.85,613.17 760.30,608.00 C762.75,602.83 766.55,595.58 770.00,591.00 C773.45,586.42 776.40,583.47 781.00,580.50 C785.60,577.53 794.83,574.42 797.60,573.20 L793.7,557.3 Z" fill="url(#arrG)" stroke="#2b4a85" stroke-width="0.9"/>
<path d="M1267.00,563.80 C1269.72,565.08 1278.05,568.38 1283.30,571.50 C1288.55,574.62 1293.97,578.42 1298.50,582.50 C1303.03,586.58 1307.30,590.98 1310.50,596.00 C1313.70,601.02 1315.95,607.60 1317.70,612.60 C1319.45,617.60 1320.35,621.93 1321.00,626.00 C1321.65,630.07 1321.78,633.60 1321.60,637.00 C1321.42,640.40 1320.75,642.95 1319.90,646.40 C1319.05,649.85 1317.72,653.93 1316.50,657.70 C1315.28,661.47 1314.20,665.23 1312.60,669.00 C1311.00,672.77 1309.33,676.63 1306.90,680.30 C1304.47,683.97 1301.60,687.80 1298.00,691.00 C1294.40,694.20 1290.95,696.92 1285.30,699.50 C1279.65,702.08 1270.50,705.08 1264.10,706.50 C1257.70,707.92 1249.77,707.75 1246.90,708.00 L1241.1,718.4 L1227.7,697.2 L1250.7,681.9 L1248.8,691.5 C1252.00,691.33 1261.97,691.33 1268.00,690.50 C1274.03,689.67 1280.33,688.08 1285.00,686.50 C1289.67,684.92 1292.35,683.92 1296.00,681.00 C1299.65,678.08 1303.65,673.83 1306.90,669.00 C1310.15,664.17 1314.27,657.65 1315.50,652.00 C1316.73,646.35 1315.07,639.78 1314.30,635.10 C1313.53,630.42 1312.53,627.92 1310.90,623.90 C1309.27,619.88 1307.23,614.77 1304.50,611.00 C1301.77,607.23 1297.92,604.55 1294.50,601.30 C1291.08,598.05 1287.75,594.38 1284.00,591.50 C1280.25,588.62 1275.88,585.73 1272.00,584.00 C1268.12,582.27 1262.58,581.58 1260.70,581.10 Z" fill="url(#arrG)" stroke="#2b4a85" stroke-width="0.9"/>
<g>
<rect x="949.6" y="587.0" width="7.0" height="34.2" fill="#4472c4" stroke="#3a62ad" stroke-width="0.5"/>
<rect x="957.4" y="584.5" width="6.8" height="37.5" fill="#4472c4" stroke="#3a62ad" stroke-width="0.5"/>
<rect x="965.0" y="583.8" width="6.5" height="38.2" fill="#4472c4" stroke="#3a62ad" stroke-width="0.5"/>
<rect x="972.3" y="584.5" width="6.2" height="37.5" fill="#4472c4" stroke="#3a62ad" stroke-width="0.5"/>
<rect x="979.0" y="584.5" width="3.6" height="35.5" fill="#6f93d3" stroke="#3a62ad" stroke-width="0.5"/>
<path d="M960,584.5 Q962,581 965,583.8 M968,583.8 Q971,580.5 974,584.5" stroke="#7b9bd6" stroke-width="0.8" fill="none"/>
</g>
<ellipse cx="1104.8" cy="599.3" rx="7.2" ry="20.3" fill="#4472c4" stroke="#3a62ad" stroke-width="0.6"/>
<path d="M1102.5,580 L1104.8,599 L1102.5,618 M1107,580 L1104.8,599 L1107,618" stroke="#8fabdf" stroke-width="0.7" fill="none"/>
<text x="916.70" y="574.70" font-size="8.0" font-weight="bold" font-style="normal" text-anchor="start" fill="#222" font-family="'Liberation Sans', Arial, sans-serif" >PBAN</text>
<path d="M942.0,570.5 C948,569.5 953,572 956.2,578.5" stroke="#4a5f99" stroke-width="0.9" fill="none"/>
<path d="M954.2,577.6 L956.6,580.6 L957.3,576.6 Z" fill="#4a5f99"/>
<text x="960.00" y="627.30" font-size="8.0" font-weight="bold" font-style="normal" text-anchor="start" fill="#222" font-family="'Liberation Sans', Arial, sans-serif" >PBANR</text>
<text x="1100.40" y="625.00" font-size="8.0" font-weight="bold" font-style="normal" text-anchor="start" fill="#222" font-family="'Liberation Sans', Arial, sans-serif" >CaCn</text>
<path d="M1003.2,627.5 Q1040,640 1083,622.5" stroke="#5b7bb5" stroke-width="1.3" fill="none"/>
<path d="M1081.0,620.5 L1085.5,621.5 L1082.5,625.0 Z" fill="#5b7bb5"/>
<line x1="964.3" y1="629.0" x2="964.3" y2="640.1" stroke="#5b7bb5" stroke-width="1.1"/>
<path d="M962.3,639.6 L966.3,639.6 L964.3,642.6 Z" fill="#5b7bb5"/>
<line x1="964.3" y1="659.3" x2="964.3" y2="671.1" stroke="#5b7bb5" stroke-width="1.1"/>
<path d="M962.3,670.6 L966.3,670.6 L964.3,673.6 Z" fill="#5b7bb5"/>
<line x1="964.3" y1="702.6" x2="964.3" y2="722.0" stroke="#5b7bb5" stroke-width="1.1"/>
<path d="M962.3,721.5 L966.3,721.5 L964.3,724.5 Z" fill="#5b7bb5"/>
<line x1="1104.4" y1="626.7" x2="1104.4" y2="638.5" stroke="#5b7bb5" stroke-width="1.1"/>
<path d="M1102.4,638.0 L1106.4,638.0 L1104.4,641.0 Z" fill="#5b7bb5"/>
<line x1="1104.4" y1="656.9" x2="1104.4" y2="668.7" stroke="#5b7bb5" stroke-width="1.1"/>
<path d="M1102.4,668.2 L1106.4,668.2 L1104.4,671.2 Z" fill="#5b7bb5"/>
<line x1="1104.4" y1="701.0" x2="1104.4" y2="722.0" stroke="#5b7bb5" stroke-width="1.1"/>
<path d="M1102.4,721.5 L1106.4,721.5 L1104.4,724.5 Z" fill="#5b7bb5"/>
<text x="953.70" y="655.00" font-size="8.0" font-weight="bold" font-style="normal" text-anchor="start" fill="#222" font-family="'Liberation Sans', Arial, sans-serif" >cAMP</text>
<text x="1097.0" y="653.0" font-size="8.0" font-weight="bold" fill="#222" font-family="'Liberation Sans', Arial, sans-serif">Ca<tspan font-size="5" dy="-3">2+</tspan></text>
<ellipse cx="965.6" cy="688.6" rx="22.5" ry="11.2" fill="url(#pkaG)"/>
<text x="965.60" y="691.60" font-size="8.2" font-weight="bold" font-style="normal" text-anchor="middle" fill="#222" font-family="'Liberation Sans', Arial, sans-serif" >PKA</text>
<ellipse cx="1104.6" cy="685.5" rx="21.0" ry="9.8" fill="url(#canG)"/>
<text x="1104.60" y="688.50" font-size="8.2" font-weight="bold" font-style="normal" text-anchor="middle" fill="#222" font-family="'Liberation Sans', Arial, sans-serif" >CaN</text>
<ellipse cx="957.8" cy="738.6" rx="20.2" ry="12.1" fill="#f5c6dc" stroke="#c97aa3" stroke-width="1"/>
<text x="957.80" y="741.80" font-size="8.6" font-weight="bold" font-style="normal" text-anchor="middle" fill="#222" font-family="'Liberation Sans', Arial, sans-serif" >HK2</text>
<ellipse cx="1104.0" cy="740.0" rx="19.9" ry="12.4" fill="#f5c6dc" stroke="#c97aa3" stroke-width="1"/>
<text x="1104.00" y="743.20" font-size="8.6" font-weight="bold" font-style="normal" text-anchor="middle" fill="#222" font-family="'Liberation Sans', Arial, sans-serif" >ACC</text>
<ellipse cx="972.4" cy="776.3" rx="20.2" ry="11.7" fill="#f5c6dc" stroke="#c97aa3" stroke-width="1"/>
<text x="972.40" y="779.50" font-size="8.6" font-weight="bold" font-style="normal" text-anchor="middle" fill="#222" font-family="'Liberation Sans', Arial, sans-serif" >PFK</text>
<rect x="898.5" y="749.4" width="39.7" height="16.0" rx="2.5" fill="#e6ecf7" stroke="#aebfe0" stroke-width="1.3"/>
<text x="917.60" y="760.00" font-size="7.4" font-weight="bold" font-style="normal" text-anchor="middle" fill="#333" font-family="'Liberation Sans', Arial, sans-serif" >glucose</text>
<rect x="982.7" y="747.9" width="35.9" height="16.7" rx="2.5" fill="#e6ecf7" stroke="#aebfe0" stroke-width="1.3"/>
<text x="1000.30" y="758.90" font-size="7.4" font-weight="bold" font-style="normal" text-anchor="middle" fill="#333" font-family="'Liberation Sans', Arial, sans-serif" >Pyruvate</text>
<rect x="1039.0" y="747.9" width="46.0" height="16.7" rx="2.5" fill="#e6ecf7" stroke="#aebfe0" stroke-width="1.3"/>
<text x="1061.60" y="758.90" font-size="7.45" font-weight="bold" font-style="normal" text-anchor="middle" fill="#333" font-family="'Liberation Sans', Arial, sans-serif" >Acetyl-CoA</text>
<rect x="1122.0" y="747.0" width="60.9" height="17.0" rx="2.5" fill="#e6ecf7" stroke="#aebfe0" stroke-width="1.3"/>
<text x="1151.70" y="758.40" font-size="7.6" font-weight="bold" font-style="normal" text-anchor="middle" fill="#333" font-family="'Liberation Sans', Arial, sans-serif" >Palmitoyl-CoA</text>
<rect x="1194.1" y="761.0" width="27.9" height="13.2" rx="2" fill="#eef1f6" stroke="#c8cdd6" stroke-width="1.2"/>
<rect x="1194.1" y="778.6" width="27.9" height="14.0" rx="2" fill="#eef1f6" stroke="#c8cdd6" stroke-width="1.2"/>
<rect x="1194.1" y="797.6" width="27.9" height="13.1" rx="2" fill="#eef1f6" stroke="#c8cdd6" stroke-width="1.2"/>
<path d="M1225.77,765.00 A199.6,143.5 0 0 1 1183.36,830.00" fill="none" stroke="#6a84b1" stroke-opacity="0.8" stroke-width="2.4"/>
<text x="1208.00" y="770.40" font-size="7.9" font-weight="bold" font-style="normal" text-anchor="middle" fill="#222" font-family="'Liberation Sans', Arial, sans-serif" >Δ9</text>
<text x="1208.00" y="788.40" font-size="7.9" font-weight="bold" font-style="normal" text-anchor="middle" fill="#222" font-family="'Liberation Sans', Arial, sans-serif" >FAR</text>
<text x="1208.00" y="806.95" font-size="7.9" font-weight="bold" font-style="normal" text-anchor="middle" fill="#222" font-family="'Liberation Sans', Arial, sans-serif" >ACT</text>
<line x1="938.5" y1="756.7" x2="982.3" y2="756.7" stroke="#6d8cc6" stroke-width="0.9" stroke-dasharray="1.6 1.2"/>
<path d="M979.3,754.9000000000001 L982.3,756.7 L979.3,758.5 Z" fill="#6d8cc6"/>
<line x1="1018.8" y1="756.4" x2="1038.6" y2="756.4" stroke="#6d8cc6" stroke-width="0.9" stroke-dasharray="1.6 1.2"/>
<path d="M1035.6,754.6 L1038.6,756.4 L1035.6,758.1999999999999 Z" fill="#6d8cc6"/>
<line x1="1085.2" y1="756.0" x2="1121.6" y2="756.0" stroke="#6d8cc6" stroke-width="0.9" stroke-dasharray="1.6 1.2"/>
<path d="M1118.6,754.2 L1121.6,756.0 L1118.6,757.8 Z" fill="#6d8cc6"/>
<line x1="1183.0" y1="756.0" x2="1231.4" y2="756.0" stroke="#6d8cc6" stroke-width="0.9" stroke-dasharray="1.6 1.2"/>
<rect x="1231.4" y="737.6" width="77.8" height="49.9" rx="6" fill="#ffffff" stroke="#b3c0d8" stroke-width="1.8"/>
<text x="1268.80" y="750.20" font-size="8.75" font-weight="bold" font-style="italic" text-anchor="middle" fill="#222" font-family="'Liberation Sans', Arial, sans-serif" >S.frugiperda</text>
<text x="1268.80" y="760.40" font-size="8.65" font-weight="bold" font-style="normal" text-anchor="middle" fill="#222" font-family="'Liberation Sans', Arial, sans-serif" >Sex Pheromone</text>
<text x="1272.50" y="781.10" font-size="8.65" font-weight="bold" font-style="normal" text-anchor="middle" fill="#222" font-family="'Liberation Sans', Arial, sans-serif" >Z9-14:OAc</text>
<path d="M980.20,649.00 L982.80,649.00 L982.80,653.00 L984.70,653.00 L981.50,658.50 L978.30,653.00 L980.20,653.00 Z" fill="#cb1020"/>
<path d="M1118.05,648.20 L1119.75,648.20 L1119.75,654.30 L1121.70,654.30 L1118.90,659.30 L1116.10,654.30 L1118.05,654.30 Z" fill="#cb1020"/>
<path d="M1129.45,683.00 L1131.15,683.00 L1131.15,689.80 L1133.10,689.80 L1130.30,695.30 L1127.50,689.80 L1129.45,689.80 Z" fill="#cb1020"/>
<path d="M980.95,726.60 L982.65,726.60 L982.65,738.50 L984.80,738.50 L981.80,745.00 L978.80,738.50 L980.95,738.50 Z" fill="#cb1020"/>
<path d="M1128.85,726.60 L1130.55,726.60 L1130.55,738.00 L1133.10,738.00 L1129.70,745.00 L1126.30,738.00 L1128.85,738.00 Z" fill="#cb1020"/>
<path d="M994.95,769.20 L996.65,769.20 L996.65,783.90 L999.00,783.90 L995.80,790.90 L992.60,783.90 L994.95,783.90 Z" fill="#cb1020"/>
<path d="M1017.75,750.80 L1019.45,750.80 L1019.45,759.40 L1021.60,759.40 L1018.60,765.40 L1015.60,759.40 L1017.75,759.40 Z" fill="#cb1020"/>
<path d="M1084.15,750.80 L1085.85,750.80 L1085.85,758.60 L1088.00,758.60 L1085.00,764.60 L1082.00,758.60 L1084.15,758.60 Z" fill="#cb1020"/>
<path d="M1305.60,756.70 L1308.00,756.70 L1308.00,779.00 L1311.00,779.00 L1306.80,792.00 L1302.60,779.00 L1305.60,779.00 Z" fill="#cb1020"/>
<text x="1099.60" y="825.60" font-size="8.9" font-weight="bold" font-style="italic" text-anchor="middle" fill="#333" font-family="'Liberation Sans', Arial, sans-serif" >Spodoptera frugiperda</text>
<text x="1099.60" y="841.80" font-size="9.0" font-weight="bold" font-style="normal" text-anchor="middle" fill="#333" font-family="'Liberation Sans', Arial, sans-serif" >PG cell</text>
</svg></body></html>
